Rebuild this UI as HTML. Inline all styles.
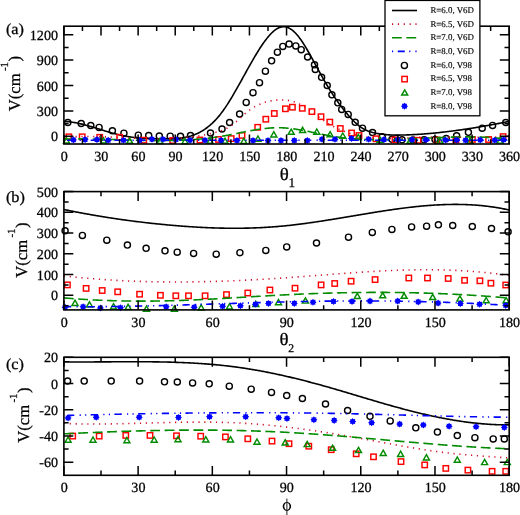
<!DOCTYPE html>
<html><head><meta charset="utf-8"><style>
html,body{margin:0;padding:0;background:#fff;}
svg{display:block;}
text{font-family:"Liberation Serif",serif;fill:#000;stroke:#000;stroke-width:0.28px;text-rendering:geometricPrecision;}
.g{opacity:0.999}
</style></head><body>
<svg width="520" height="515" viewBox="0 0 520 515">
<rect width="520" height="515" fill="#fff"/>
<path d="M63.9,121.49L64.9,121.52L65.9,121.57L66.9,121.64L67.9,121.72L68.9,121.81L69.9,121.92L70.9,122.04L71.9,122.18L72.9,122.32L73.9,122.48L74.9,122.65L75.9,122.83L76.9,123.02L77.9,123.22L78.9,123.44L79.9,123.66L80.9,123.89L81.9,124.12L82.9,124.37L83.9,124.62L84.9,124.88L85.9,125.15L86.9,125.42L87.9,125.7L88.9,125.99L89.9,126.28L90.9,126.57L91.9,126.87L92.9,127.17L93.9,127.47L94.9,127.78L95.9,128.09L96.9,128.4L97.9,128.71L98.9,129.03L99.9,129.34L100.9,129.65L101.9,129.97L102.9,130.28L103.9,130.59L104.9,130.9L105.9,131.21L106.9,131.51L107.9,131.82L108.9,132.11L109.9,132.41L110.9,132.7L111.9,132.98L112.9,133.26L113.9,133.54L114.9,133.8L115.9,134.07L116.9,134.32L117.9,134.57L118.9,134.81L119.9,135.04L120.9,135.26L121.9,135.47L122.9,135.68L123.9,135.87L124.9,136.06L125.9,136.24L126.9,136.42L127.9,136.58L128.9,136.74L129.9,136.89L130.9,137.03L131.9,137.17L132.9,137.3L133.9,137.43L134.9,137.54L135.9,137.65L136.9,137.76L137.9,137.86L138.9,137.95L139.9,138.04L140.9,138.12L141.9,138.19L142.9,138.26L143.9,138.33L144.9,138.39L145.9,138.45L146.9,138.5L147.9,138.54L148.9,138.59L149.9,138.62L150.9,138.66L151.9,138.69L152.9,138.72L153.9,138.74L154.9,138.76L155.9,138.78L156.9,138.79L157.9,138.8L158.9,138.81L159.9,138.82L160.9,138.82L161.9,138.82L162.9,138.82L163.9,138.82L164.9,138.81L165.9,138.8L166.9,138.8L167.9,138.78L168.9,138.77L169.9,138.75L170.9,138.72L171.9,138.69L172.9,138.65L173.9,138.6L174.9,138.55L175.9,138.49L176.9,138.41L177.9,138.33L178.9,138.23L179.9,138.12L180.9,138L181.9,137.86L182.9,137.71L183.9,137.55L184.9,137.37L185.9,137.17L186.9,136.95L187.9,136.72L188.9,136.46L189.9,136.19L190.9,135.9L191.9,135.58L192.9,135.24L193.9,134.88L194.9,134.49L195.9,134.09L196.9,133.65L197.9,133.19L198.9,132.7L199.9,132.19L200.9,131.64L201.9,131.07L202.9,130.47L203.9,129.83L204.9,129.17L205.9,128.47L206.9,127.74L207.9,126.98L208.9,126.18L209.9,125.34L210.9,124.47L211.9,123.57L212.9,122.62L213.9,121.64L214.9,120.62L215.9,119.56L216.9,118.45L217.9,117.31L218.9,116.12L219.9,114.89L220.9,113.62L221.9,112.3L222.9,110.94L223.9,109.54L224.9,108.1L225.9,106.62L226.9,105.11L227.9,103.56L228.9,101.98L229.9,100.37L230.9,98.74L231.9,97.08L232.9,95.39L233.9,93.69L234.9,91.96L235.9,90.22L236.9,88.46L237.9,86.69L238.9,84.9L239.9,83.11L240.9,81.31L241.9,79.5L242.9,77.69L243.9,75.88L244.9,74.07L245.9,72.26L246.9,70.46L247.9,68.66L248.9,66.87L249.9,65.09L250.9,63.32L251.9,61.57L252.9,59.83L253.9,58.11L254.9,56.41L255.9,54.74L256.9,53.09L257.9,51.46L258.9,49.86L259.9,48.3L260.9,46.76L261.9,45.26L262.9,43.8L263.9,42.37L264.9,40.99L265.9,39.66L266.9,38.37L267.9,37.13L268.9,35.95L269.9,34.83L270.9,33.77L271.9,32.77L272.9,31.83L273.9,30.96L274.9,30.17L275.9,29.45L276.9,28.81L277.9,28.24L278.9,27.77L279.9,27.37L280.9,27.07L281.9,26.86L282.9,26.74L283.9,26.72L284.9,26.8L285.9,26.97L286.9,27.24L287.9,27.59L288.9,28.04L289.9,28.58L290.9,29.2L291.9,29.91L292.9,30.7L293.9,31.57L294.9,32.53L295.9,33.56L296.9,34.67L297.9,35.86L298.9,37.11L299.9,38.44L300.9,39.83L301.9,41.28L302.9,42.78L303.9,44.34L304.9,45.94L305.9,47.58L306.9,49.26L307.9,50.98L308.9,52.73L309.9,54.5L310.9,56.29L311.9,58.11L312.9,59.93L313.9,61.77L314.9,63.61L315.9,65.45L316.9,67.28L317.9,69.12L318.9,70.94L319.9,72.75L320.9,74.56L321.9,76.35L322.9,78.12L323.9,79.88L324.9,81.62L325.9,83.34L326.9,85.03L327.9,86.7L328.9,88.35L329.9,89.97L330.9,91.56L331.9,93.12L332.9,94.66L333.9,96.17L334.9,97.66L335.9,99.12L336.9,100.55L337.9,101.96L338.9,103.35L339.9,104.71L340.9,106.05L341.9,107.36L342.9,108.65L343.9,109.92L344.9,111.16L345.9,112.39L346.9,113.59L347.9,114.76L348.9,115.92L349.9,117.05L350.9,118.16L351.9,119.23L352.9,120.27L353.9,121.28L354.9,122.26L355.9,123.19L356.9,124.09L357.9,124.94L358.9,125.74L359.9,126.5L360.9,127.21L361.9,127.86L362.9,128.48L363.9,129.05L364.9,129.57L365.9,130.06L366.9,130.51L367.9,130.92L368.9,131.3L369.9,131.65L370.9,131.97L371.9,132.27L372.9,132.54L373.9,132.78L374.9,133.01L375.9,133.22L376.9,133.42L377.9,133.6L378.9,133.77L379.9,133.92L380.9,134.07L381.9,134.2L382.9,134.32L383.9,134.44L384.9,134.54L385.9,134.63L386.9,134.71L387.9,134.79L388.9,134.85L389.9,134.91L390.9,134.96L391.9,135L392.9,135.03L393.9,135.06L394.9,135.08L395.9,135.09L396.9,135.1L397.9,135.1L398.9,135.09L399.9,135.09L400.9,135.07L401.9,135.05L402.9,135.03L403.9,135.01L404.9,134.98L405.9,134.95L406.9,134.91L407.9,134.87L408.9,134.83L409.9,134.79L410.9,134.75L411.9,134.7L412.9,134.65L413.9,134.6L414.9,134.55L415.9,134.49L416.9,134.43L417.9,134.37L418.9,134.31L419.9,134.25L420.9,134.18L421.9,134.11L422.9,134.04L423.9,133.96L424.9,133.89L425.9,133.81L426.9,133.73L427.9,133.65L428.9,133.56L429.9,133.47L430.9,133.39L431.9,133.29L432.9,133.2L433.9,133.11L434.9,133.01L435.9,132.91L436.9,132.81L437.9,132.71L438.9,132.6L439.9,132.5L440.9,132.39L441.9,132.28L442.9,132.16L443.9,132.05L444.9,131.93L445.9,131.82L446.9,131.7L447.9,131.58L448.9,131.45L449.9,131.33L450.9,131.2L451.9,131.07L452.9,130.94L453.9,130.81L454.9,130.68L455.9,130.54L456.9,130.41L457.9,130.27L458.9,130.13L459.9,129.99L460.9,129.84L461.9,129.7L462.9,129.55L463.9,129.4L464.9,129.26L465.9,129.11L466.9,128.95L467.9,128.8L468.9,128.64L469.9,128.49L470.9,128.33L471.9,128.17L472.9,128.01L473.9,127.85L474.9,127.69L475.9,127.52L476.9,127.36L477.9,127.19L478.9,127.02L479.9,126.85L480.9,126.68L481.9,126.51L482.9,126.33L483.9,126.16L484.9,125.98L485.9,125.81L486.9,125.63L487.9,125.45L488.9,125.27L489.9,125.09L490.9,124.91L491.9,124.72L492.9,124.54L493.9,124.36L494.9,124.17L495.9,123.98L496.9,123.79L497.9,123.6L498.9,123.41L499.9,123.22L500.9,123.03L501.9,122.84L502.9,122.65L503.9,122.45L504.9,122.26L505.9,122.06L506.9,121.86L507.9,121.67L508.9,121.47L509.2,121.41" fill="none" stroke="#000" stroke-width="1.6" stroke-linecap="butt" stroke-linejoin="round"/><circle cx="67.8" cy="122.6" r="3.05" fill="none" stroke="#000" stroke-width="1.4"/><circle cx="81.2" cy="123.5" r="3.05" fill="none" stroke="#000" stroke-width="1.4"/><circle cx="90.8" cy="125.5" r="3.05" fill="none" stroke="#000" stroke-width="1.4"/><circle cx="99.1" cy="127.4" r="3.05" fill="none" stroke="#000" stroke-width="1.4"/><circle cx="112.4" cy="130.8" r="3.05" fill="none" stroke="#000" stroke-width="1.4"/><circle cx="123.9" cy="133.2" r="3.05" fill="none" stroke="#000" stroke-width="1.4"/><circle cx="138.3" cy="135.2" r="3.05" fill="none" stroke="#000" stroke-width="1.4"/><circle cx="148.7" cy="135.5" r="3.05" fill="none" stroke="#000" stroke-width="1.4"/><circle cx="159.3" cy="136" r="3.05" fill="none" stroke="#000" stroke-width="1.4"/><circle cx="170.2" cy="136.2" r="3.05" fill="none" stroke="#000" stroke-width="1.4"/><circle cx="180.5" cy="136.3" r="3.05" fill="none" stroke="#000" stroke-width="1.4"/><circle cx="190.5" cy="135.5" r="3.05" fill="none" stroke="#000" stroke-width="1.4"/><circle cx="210.5" cy="133" r="3.05" fill="none" stroke="#000" stroke-width="1.4"/><circle cx="222" cy="129" r="3.05" fill="none" stroke="#000" stroke-width="1.4"/><circle cx="229.6" cy="122.5" r="3.05" fill="none" stroke="#000" stroke-width="1.4"/><circle cx="239.6" cy="114" r="3.05" fill="none" stroke="#000" stroke-width="1.4"/><circle cx="246.2" cy="102.4" r="3.05" fill="none" stroke="#000" stroke-width="1.4"/><circle cx="253" cy="92.7" r="3.05" fill="none" stroke="#000" stroke-width="1.4"/><circle cx="259.5" cy="82.7" r="3.05" fill="none" stroke="#000" stroke-width="1.4"/><circle cx="265.4" cy="71.2" r="3.05" fill="none" stroke="#000" stroke-width="1.4"/><circle cx="271.6" cy="60.8" r="3.05" fill="none" stroke="#000" stroke-width="1.4"/><circle cx="277.4" cy="52.2" r="3.05" fill="none" stroke="#000" stroke-width="1.4"/><circle cx="282.8" cy="46.4" r="3.05" fill="none" stroke="#000" stroke-width="1.4"/><circle cx="289.1" cy="44.1" r="3.05" fill="none" stroke="#000" stroke-width="1.4"/><circle cx="295.8" cy="45.9" r="3.05" fill="none" stroke="#000" stroke-width="1.4"/><circle cx="301.2" cy="49.7" r="3.05" fill="none" stroke="#000" stroke-width="1.4"/><circle cx="307.6" cy="57" r="3.05" fill="none" stroke="#000" stroke-width="1.4"/><circle cx="314.5" cy="64.8" r="3.05" fill="none" stroke="#000" stroke-width="1.4"/><circle cx="315.3" cy="69.4" r="3.05" fill="none" stroke="#000" stroke-width="1.4"/><circle cx="321.6" cy="77.3" r="3.05" fill="none" stroke="#000" stroke-width="1.4"/><circle cx="327.2" cy="85.5" r="3.05" fill="none" stroke="#000" stroke-width="1.4"/><circle cx="331.9" cy="94.8" r="3.05" fill="none" stroke="#000" stroke-width="1.4"/><circle cx="337.8" cy="102.8" r="3.05" fill="none" stroke="#000" stroke-width="1.4"/><circle cx="341.7" cy="109.4" r="3.05" fill="none" stroke="#000" stroke-width="1.4"/><circle cx="348.2" cy="114.4" r="3.05" fill="none" stroke="#000" stroke-width="1.4"/><circle cx="355.2" cy="122.3" r="3.05" fill="none" stroke="#000" stroke-width="1.4"/><circle cx="362.5" cy="128.2" r="3.05" fill="none" stroke="#000" stroke-width="1.4"/><circle cx="372.5" cy="132.5" r="3.05" fill="none" stroke="#000" stroke-width="1.4"/><circle cx="382.2" cy="136.8" r="3.05" fill="none" stroke="#000" stroke-width="1.4"/><circle cx="392" cy="139.3" r="3.05" fill="none" stroke="#000" stroke-width="1.4"/><circle cx="402" cy="139.8" r="3.05" fill="none" stroke="#000" stroke-width="1.4"/><circle cx="413" cy="140" r="3.05" fill="none" stroke="#000" stroke-width="1.4"/><circle cx="424" cy="139.8" r="3.05" fill="none" stroke="#000" stroke-width="1.4"/><circle cx="435" cy="139.5" r="3.05" fill="none" stroke="#000" stroke-width="1.4"/><circle cx="446.2" cy="138.5" r="3.05" fill="none" stroke="#000" stroke-width="1.4"/><circle cx="456.6" cy="135.8" r="3.05" fill="none" stroke="#000" stroke-width="1.4"/><circle cx="468.4" cy="132.3" r="3.05" fill="none" stroke="#000" stroke-width="1.4"/><circle cx="482.2" cy="128.2" r="3.05" fill="none" stroke="#000" stroke-width="1.4"/><circle cx="492.6" cy="125.4" r="3.05" fill="none" stroke="#000" stroke-width="1.4"/><circle cx="505.8" cy="122.6" r="3.05" fill="none" stroke="#000" stroke-width="1.4"/><path d="M63.9,137.33L64.9,137.25L65.9,137.18L66.9,137.11L67.9,137.05L68.9,136.99L69.9,136.93L70.9,136.88L71.9,136.83L72.9,136.78L73.9,136.74L74.9,136.7L75.9,136.67L76.9,136.64L77.9,136.61L78.9,136.59L79.9,136.56L80.9,136.55L81.9,136.53L82.9,136.52L83.9,136.51L84.9,136.5L85.9,136.5L86.9,136.49L87.9,136.49L88.9,136.5L89.9,136.5L90.9,136.51L91.9,136.52L92.9,136.54L93.9,136.55L94.9,136.57L95.9,136.59L96.9,136.61L97.9,136.63L98.9,136.65L99.9,136.68L100.9,136.71L101.9,136.74L102.9,136.77L103.9,136.8L104.9,136.84L105.9,136.87L106.9,136.91L107.9,136.94L108.9,136.98L109.9,137.02L110.9,137.06L111.9,137.1L112.9,137.15L113.9,137.19L114.9,137.23L115.9,137.28L116.9,137.32L117.9,137.37L118.9,137.41L119.9,137.46L120.9,137.5L121.9,137.55L122.9,137.6L123.9,137.64L124.9,137.69L125.9,137.73L126.9,137.78L127.9,137.82L128.9,137.87L129.9,137.91L130.9,137.96L131.9,138L132.9,138.04L133.9,138.09L134.9,138.13L135.9,138.17L136.9,138.21L137.9,138.25L138.9,138.28L139.9,138.32L140.9,138.35L141.9,138.39L142.9,138.42L143.9,138.45L144.9,138.48L145.9,138.51L146.9,138.53L147.9,138.56L148.9,138.58L149.9,138.6L150.9,138.62L151.9,138.64L152.9,138.65L153.9,138.67L154.9,138.68L155.9,138.68L156.9,138.69L157.9,138.69L158.9,138.69L159.9,138.69L160.9,138.69L161.9,138.68L162.9,138.67L163.9,138.66L164.9,138.64L165.9,138.62L166.9,138.6L167.9,138.58L168.9,138.55L169.9,138.52L170.9,138.48L171.9,138.44L172.9,138.4L173.9,138.36L174.9,138.31L175.9,138.25L176.9,138.2L177.9,138.14L178.9,138.07L179.9,138L180.9,137.93L181.9,137.86L182.9,137.77L183.9,137.69L184.9,137.6L185.9,137.51L186.9,137.41L187.9,137.3L188.9,137.2L189.9,137.08L190.9,136.97L191.9,136.84L192.9,136.72L193.9,136.58L194.9,136.45L195.9,136.3L196.9,136.16L197.9,136L198.9,135.85L199.9,135.68L200.9,135.51L201.9,135.34L202.9,135.16L203.9,134.97L204.9,134.78L205.9,134.58L206.9,134.38L207.9,134.17L208.9,133.95L209.9,133.73L210.9,133.5L211.9,133.26L212.9,133.02L213.9,132.78L214.9,132.52L215.9,132.26L216.9,131.99L217.9,131.71L218.9,131.42L219.9,131.1L220.9,130.78L221.9,130.43L222.9,130.05L223.9,129.65L224.9,129.23L225.9,128.77L226.9,128.28L227.9,127.75L228.9,127.19L229.9,126.58L230.9,125.93L231.9,125.24L232.9,124.5L233.9,123.72L234.9,122.89L235.9,122.04L236.9,121.15L237.9,120.25L238.9,119.33L239.9,118.4L240.9,117.46L241.9,116.53L242.9,115.61L243.9,114.7L244.9,113.81L245.9,112.95L246.9,112.12L247.9,111.33L248.9,110.57L249.9,109.84L250.9,109.14L251.9,108.47L252.9,107.83L253.9,107.23L254.9,106.65L255.9,106.1L256.9,105.58L257.9,105.09L258.9,104.62L259.9,104.18L260.9,103.76L261.9,103.37L262.9,103.01L263.9,102.67L264.9,102.35L265.9,102.05L266.9,101.78L267.9,101.53L268.9,101.3L269.9,101.08L270.9,100.89L271.9,100.72L272.9,100.56L273.9,100.43L274.9,100.31L275.9,100.2L276.9,100.11L277.9,100.04L278.9,99.99L279.9,99.95L280.9,99.93L281.9,99.94L282.9,99.96L283.9,100L284.9,100.07L285.9,100.16L286.9,100.27L287.9,100.41L288.9,100.57L289.9,100.77L290.9,100.98L291.9,101.23L292.9,101.51L293.9,101.81L294.9,102.15L295.9,102.52L296.9,102.92L297.9,103.36L298.9,103.83L299.9,104.32L300.9,104.85L301.9,105.4L302.9,105.98L303.9,106.58L304.9,107.2L305.9,107.84L306.9,108.5L307.9,109.17L308.9,109.86L309.9,110.56L310.9,111.27L311.9,111.99L312.9,112.72L313.9,113.45L314.9,114.18L315.9,114.92L316.9,115.66L317.9,116.39L318.9,117.12L319.9,117.85L320.9,118.57L321.9,119.28L322.9,119.98L323.9,120.66L324.9,121.33L325.9,121.99L326.9,122.63L327.9,123.25L328.9,123.86L329.9,124.46L330.9,125.03L331.9,125.6L332.9,126.14L333.9,126.67L334.9,127.19L335.9,127.69L336.9,128.18L337.9,128.66L338.9,129.12L339.9,129.56L340.9,130L341.9,130.42L342.9,130.82L343.9,131.22L344.9,131.6L345.9,131.96L346.9,132.32L347.9,132.66L348.9,132.99L349.9,133.31L350.9,133.62L351.9,133.91L352.9,134.2L353.9,134.47L354.9,134.73L355.9,134.98L356.9,135.22L357.9,135.45L358.9,135.67L359.9,135.87L360.9,136.07L361.9,136.26L362.9,136.44L363.9,136.61L364.9,136.77L365.9,136.92L366.9,137.06L367.9,137.2L368.9,137.32L369.9,137.44L370.9,137.55L371.9,137.65L372.9,137.75L373.9,137.83L374.9,137.91L375.9,137.99L376.9,138.05L377.9,138.11L378.9,138.17L379.9,138.21L380.9,138.26L381.9,138.29L382.9,138.32L383.9,138.35L384.9,138.37L385.9,138.38L386.9,138.39L387.9,138.4L388.9,138.4L389.9,138.39L390.9,138.39L391.9,138.38L392.9,138.36L393.9,138.35L394.9,138.33L395.9,138.3L396.9,138.28L397.9,138.25L398.9,138.22L399.9,138.18L400.9,138.15L401.9,138.11L402.9,138.07L403.9,138.03L404.9,137.99L405.9,137.95L406.9,137.91L407.9,137.87L408.9,137.82L409.9,137.78L410.9,137.74L411.9,137.69L412.9,137.65L413.9,137.61L414.9,137.57L415.9,137.53L416.9,137.49L417.9,137.45L418.9,137.42L419.9,137.39L420.9,137.35L421.9,137.33L422.9,137.3L423.9,137.27L424.9,137.25L425.9,137.23L426.9,137.21L427.9,137.19L428.9,137.18L429.9,137.16L430.9,137.15L431.9,137.14L432.9,137.13L433.9,137.12L434.9,137.11L435.9,137.11L436.9,137.1L437.9,137.1L438.9,137.09L439.9,137.09L440.9,137.09L441.9,137.09L442.9,137.1L443.9,137.1L444.9,137.1L445.9,137.1L446.9,137.11L447.9,137.11L448.9,137.12L449.9,137.13L450.9,137.13L451.9,137.14L452.9,137.15L453.9,137.15L454.9,137.16L455.9,137.17L456.9,137.18L457.9,137.18L458.9,137.19L459.9,137.2L460.9,137.21L461.9,137.22L462.9,137.22L463.9,137.23L464.9,137.24L465.9,137.24L466.9,137.25L467.9,137.25L468.9,137.26L469.9,137.26L470.9,137.27L471.9,137.27L472.9,137.27L473.9,137.27L474.9,137.27L475.9,137.27L476.9,137.27L477.9,137.26L478.9,137.26L479.9,137.25L480.9,137.25L481.9,137.24L482.9,137.23L483.9,137.22L484.9,137.21L485.9,137.19L486.9,137.18L487.9,137.16L488.9,137.14L489.9,137.12L490.9,137.1L491.9,137.07L492.9,137.04L493.9,137.02L494.9,136.99L495.9,136.95L496.9,136.92L497.9,136.88L498.9,136.84L499.9,136.8L500.9,136.76L501.9,136.71L502.9,136.66L503.9,136.61L504.9,136.55L505.9,136.5L506.9,136.44L507.9,136.37L508.9,136.31L509.2,136.29" fill="none" stroke="#d0102a" stroke-width="1.6" stroke-dasharray="1.2 4.65" stroke-linecap="butt" stroke-linejoin="round"/><rect x="66.2" y="134.1" width="5.4" height="5.4" fill="none" stroke="#ff0000" stroke-width="1.45"/><rect x="79.5" y="134.1" width="5.4" height="5.4" fill="none" stroke="#ff0000" stroke-width="1.45"/><rect x="97" y="134.6" width="5.4" height="5.4" fill="none" stroke="#ff0000" stroke-width="1.45"/><rect x="117" y="134.6" width="5.4" height="5.4" fill="none" stroke="#ff0000" stroke-width="1.45"/><rect x="141.1" y="137.5" width="5.4" height="5.4" fill="none" stroke="#ff0000" stroke-width="1.45"/><rect x="170" y="137.8" width="5.4" height="5.4" fill="none" stroke="#ff0000" stroke-width="1.45"/><rect x="197.3" y="137.3" width="5.4" height="5.4" fill="none" stroke="#ff0000" stroke-width="1.45"/><rect x="215.8" y="136.8" width="5.4" height="5.4" fill="none" stroke="#ff0000" stroke-width="1.45"/><rect x="228.5" y="135.9" width="5.4" height="5.4" fill="none" stroke="#ff0000" stroke-width="1.45"/><rect x="239.3" y="132.7" width="5.4" height="5.4" fill="none" stroke="#ff0000" stroke-width="1.45"/><rect x="255" y="124.6" width="5.4" height="5.4" fill="none" stroke="#ff0000" stroke-width="1.45"/><rect x="263.1" y="116.5" width="5.4" height="5.4" fill="none" stroke="#ff0000" stroke-width="1.45"/><rect x="271.6" y="110.8" width="5.4" height="5.4" fill="none" stroke="#ff0000" stroke-width="1.45"/><rect x="282.7" y="106.1" width="5.4" height="5.4" fill="none" stroke="#ff0000" stroke-width="1.45"/><rect x="289.7" y="104.5" width="5.4" height="5.4" fill="none" stroke="#ff0000" stroke-width="1.45"/><rect x="299.6" y="105.6" width="5.4" height="5.4" fill="none" stroke="#ff0000" stroke-width="1.45"/><rect x="309.2" y="108.9" width="5.4" height="5.4" fill="none" stroke="#ff0000" stroke-width="1.45"/><rect x="318.3" y="114" width="5.4" height="5.4" fill="none" stroke="#ff0000" stroke-width="1.45"/><rect x="327.1" y="119.4" width="5.4" height="5.4" fill="none" stroke="#ff0000" stroke-width="1.45"/><rect x="337.6" y="125.8" width="5.4" height="5.4" fill="none" stroke="#ff0000" stroke-width="1.45"/><rect x="348.9" y="130.3" width="5.4" height="5.4" fill="none" stroke="#ff0000" stroke-width="1.45"/><rect x="356.3" y="132.8" width="5.4" height="5.4" fill="none" stroke="#ff0000" stroke-width="1.45"/><rect x="373.3" y="136.1" width="5.4" height="5.4" fill="none" stroke="#ff0000" stroke-width="1.45"/><rect x="392.3" y="137.1" width="5.4" height="5.4" fill="none" stroke="#ff0000" stroke-width="1.45"/><rect x="415.3" y="137.6" width="5.4" height="5.4" fill="none" stroke="#ff0000" stroke-width="1.45"/><rect x="434.3" y="137.3" width="5.4" height="5.4" fill="none" stroke="#ff0000" stroke-width="1.45"/><rect x="453.3" y="137.1" width="5.4" height="5.4" fill="none" stroke="#ff0000" stroke-width="1.45"/><rect x="469.7" y="136.8" width="5.4" height="5.4" fill="none" stroke="#ff0000" stroke-width="1.45"/><rect x="485.9" y="136.8" width="5.4" height="5.4" fill="none" stroke="#ff0000" stroke-width="1.45"/><rect x="500.4" y="133.9" width="5.4" height="5.4" fill="none" stroke="#ff0000" stroke-width="1.45"/><path d="M63.9,139.16L64.9,139.13L65.9,139.1L66.9,139.08L67.9,139.05L68.9,139.03L69.9,139.01L70.9,138.99L71.9,138.98L72.9,138.96L73.9,138.95L74.9,138.94L75.9,138.93L76.9,138.92L77.9,138.92L78.9,138.91L79.9,138.91L80.9,138.91L81.9,138.91L82.9,138.91L83.9,138.92L84.9,138.92L85.9,138.93L86.9,138.94L87.9,138.95L88.9,138.96L89.9,138.97L90.9,138.98L91.9,139L92.9,139.01L93.9,139.03L94.9,139.05L95.9,139.07L96.9,139.09L97.9,139.11L98.9,139.13L99.9,139.15L100.9,139.17L101.9,139.2L102.9,139.22L103.9,139.25L104.9,139.27L105.9,139.3L106.9,139.33L107.9,139.35L108.9,139.38L109.9,139.41L110.9,139.44L111.9,139.47L112.9,139.5L113.9,139.53L114.9,139.56L115.9,139.59L116.9,139.62L117.9,139.65L118.9,139.68L119.9,139.71L120.9,139.75L121.9,139.78L122.9,139.81L123.9,139.84L124.9,139.87L125.9,139.9L126.9,139.93L127.9,139.96L128.9,139.99L129.9,140.02L130.9,140.05L131.9,140.08L132.9,140.11L133.9,140.14L134.9,140.17L135.9,140.19L136.9,140.22L137.9,140.25L138.9,140.27L139.9,140.3L140.9,140.32L141.9,140.34L142.9,140.36L143.9,140.39L144.9,140.41L145.9,140.43L146.9,140.45L147.9,140.46L148.9,140.48L149.9,140.49L150.9,140.51L151.9,140.52L152.9,140.53L153.9,140.55L154.9,140.55L155.9,140.56L156.9,140.57L157.9,140.58L158.9,140.58L159.9,140.58L160.9,140.58L161.9,140.58L162.9,140.58L163.9,140.58L164.9,140.57L165.9,140.56L166.9,140.55L167.9,140.54L168.9,140.53L169.9,140.52L170.9,140.5L171.9,140.48L172.9,140.46L173.9,140.44L174.9,140.42L175.9,140.39L176.9,140.36L177.9,140.33L178.9,140.3L179.9,140.26L180.9,140.22L181.9,140.18L182.9,140.14L183.9,140.1L184.9,140.05L185.9,140L186.9,139.95L187.9,139.89L188.9,139.84L189.9,139.78L190.9,139.72L191.9,139.65L192.9,139.58L193.9,139.51L194.9,139.44L195.9,139.36L196.9,139.28L197.9,139.2L198.9,139.11L199.9,139.03L200.9,138.93L201.9,138.84L202.9,138.74L203.9,138.64L204.9,138.54L205.9,138.43L206.9,138.32L207.9,138.21L208.9,138.09L209.9,137.97L210.9,137.84L211.9,137.72L212.9,137.58L213.9,137.45L214.9,137.31L215.9,137.17L216.9,137.02L217.9,136.87L218.9,136.72L219.9,136.56L220.9,136.4L221.9,136.24L222.9,136.07L223.9,135.9L224.9,135.72L225.9,135.54L226.9,135.36L227.9,135.17L228.9,134.98L229.9,134.79L230.9,134.6L231.9,134.4L232.9,134.21L233.9,134.01L234.9,133.81L235.9,133.61L236.9,133.41L237.9,133.2L238.9,133L239.9,132.8L240.9,132.6L241.9,132.4L242.9,132.2L243.9,132L244.9,131.8L245.9,131.61L246.9,131.41L247.9,131.22L248.9,131.03L249.9,130.85L250.9,130.66L251.9,130.48L252.9,130.3L253.9,130.13L254.9,129.96L255.9,129.79L256.9,129.63L257.9,129.48L258.9,129.33L259.9,129.18L260.9,129.04L261.9,128.9L262.9,128.77L263.9,128.65L264.9,128.54L265.9,128.43L266.9,128.32L267.9,128.23L268.9,128.14L269.9,128.06L270.9,127.99L271.9,127.92L272.9,127.87L273.9,127.82L274.9,127.78L275.9,127.76L276.9,127.74L277.9,127.73L278.9,127.73L279.9,127.74L280.9,127.76L281.9,127.79L282.9,127.84L283.9,127.89L284.9,127.95L285.9,128.03L286.9,128.11L287.9,128.2L288.9,128.3L289.9,128.4L290.9,128.52L291.9,128.64L292.9,128.77L293.9,128.91L294.9,129.05L295.9,129.2L296.9,129.36L297.9,129.52L298.9,129.69L299.9,129.86L300.9,130.04L301.9,130.22L302.9,130.41L303.9,130.59L304.9,130.79L305.9,130.98L306.9,131.18L307.9,131.38L308.9,131.59L309.9,131.79L310.9,132L311.9,132.21L312.9,132.42L313.9,132.63L314.9,132.84L315.9,133.05L316.9,133.26L317.9,133.47L318.9,133.68L319.9,133.89L320.9,134.09L321.9,134.3L322.9,134.5L323.9,134.7L324.9,134.89L325.9,135.09L326.9,135.28L327.9,135.46L328.9,135.64L329.9,135.82L330.9,136L331.9,136.16L332.9,136.33L333.9,136.49L334.9,136.64L335.9,136.79L336.9,136.94L337.9,137.08L338.9,137.21L339.9,137.35L340.9,137.48L341.9,137.6L342.9,137.72L343.9,137.84L344.9,137.95L345.9,138.06L346.9,138.16L347.9,138.26L348.9,138.36L349.9,138.45L350.9,138.54L351.9,138.62L352.9,138.7L353.9,138.78L354.9,138.85L355.9,138.93L356.9,138.99L357.9,139.06L358.9,139.12L359.9,139.17L360.9,139.23L361.9,139.28L362.9,139.33L363.9,139.37L364.9,139.41L365.9,139.45L366.9,139.49L367.9,139.52L368.9,139.55L369.9,139.58L370.9,139.6L371.9,139.62L372.9,139.64L373.9,139.66L374.9,139.67L375.9,139.68L376.9,139.69L377.9,139.7L378.9,139.71L379.9,139.71L380.9,139.71L381.9,139.7L382.9,139.7L383.9,139.69L384.9,139.69L385.9,139.68L386.9,139.66L387.9,139.65L388.9,139.63L389.9,139.61L390.9,139.59L391.9,139.57L392.9,139.55L393.9,139.53L394.9,139.5L395.9,139.47L396.9,139.44L397.9,139.41L398.9,139.38L399.9,139.35L400.9,139.32L401.9,139.28L402.9,139.24L403.9,139.21L404.9,139.17L405.9,139.13L406.9,139.09L407.9,139.05L408.9,139.01L409.9,138.96L410.9,138.92L411.9,138.88L412.9,138.83L413.9,138.79L414.9,138.74L415.9,138.69L416.9,138.65L417.9,138.6L418.9,138.55L419.9,138.5L420.9,138.46L421.9,138.41L422.9,138.36L423.9,138.31L424.9,138.26L425.9,138.22L426.9,138.17L427.9,138.12L428.9,138.07L429.9,138.03L430.9,137.98L431.9,137.93L432.9,137.88L433.9,137.84L434.9,137.79L435.9,137.75L436.9,137.7L437.9,137.66L438.9,137.62L439.9,137.58L440.9,137.53L441.9,137.49L442.9,137.45L443.9,137.42L444.9,137.38L445.9,137.34L446.9,137.31L447.9,137.27L448.9,137.24L449.9,137.21L450.9,137.17L451.9,137.15L452.9,137.12L453.9,137.09L454.9,137.07L455.9,137.04L456.9,137.02L457.9,137L458.9,136.98L459.9,136.97L460.9,136.95L461.9,136.94L462.9,136.93L463.9,136.92L464.9,136.91L465.9,136.91L466.9,136.9L467.9,136.9L468.9,136.9L469.9,136.91L470.9,136.91L471.9,136.92L472.9,136.93L473.9,136.95L474.9,136.96L475.9,136.98L476.9,137L477.9,137.02L478.9,137.05L479.9,137.08L480.9,137.11L481.9,137.15L482.9,137.18L483.9,137.22L484.9,137.27L485.9,137.31L486.9,137.36L487.9,137.42L488.9,137.47L489.9,137.53L490.9,137.6L491.9,137.66L492.9,137.73L493.9,137.8L494.9,137.88L495.9,137.96L496.9,138.05L497.9,138.13L498.9,138.22L499.9,138.32L500.9,138.42L501.9,138.52L502.9,138.63L503.9,138.74L504.9,138.85L505.9,138.97L506.9,139.09L507.9,139.22L508.9,139.35L509.2,139.39" fill="none" stroke="#008b00" stroke-width="1.6" stroke-dasharray="9.8 4.6" stroke-linecap="butt" stroke-linejoin="round"/><path d="M66.5,137.8L69.5,143L63.5,143Z" fill="none" stroke="#008b00" stroke-width="1.45" stroke-linejoin="miter"/><path d="M103.5,137.8L106.5,143L100.5,143Z" fill="none" stroke="#008b00" stroke-width="1.45" stroke-linejoin="miter"/><path d="M129.7,138.1L132.7,143.3L126.7,143.3Z" fill="none" stroke="#008b00" stroke-width="1.45" stroke-linejoin="miter"/><path d="M160,138.3L163,143.5L157,143.5Z" fill="none" stroke="#008b00" stroke-width="1.45" stroke-linejoin="miter"/><path d="M185,138.5L188,143.7L182,143.7Z" fill="none" stroke="#008b00" stroke-width="1.45" stroke-linejoin="miter"/><path d="M210,138.1L213,143.3L207,143.3Z" fill="none" stroke="#008b00" stroke-width="1.45" stroke-linejoin="miter"/><path d="M225,138.1L228,143.3L222,143.3Z" fill="none" stroke="#008b00" stroke-width="1.45" stroke-linejoin="miter"/><path d="M243.8,138.3L246.8,143.5L240.8,143.5Z" fill="none" stroke="#008b00" stroke-width="1.45" stroke-linejoin="miter"/><path d="M258,136L261,141.2L255,141.2Z" fill="none" stroke="#008b00" stroke-width="1.45" stroke-linejoin="miter"/><path d="M273.8,131.7L276.8,136.9L270.8,136.9Z" fill="none" stroke="#008b00" stroke-width="1.45" stroke-linejoin="miter"/><path d="M291.2,129.1L294.2,134.3L288.2,134.3Z" fill="none" stroke="#008b00" stroke-width="1.45" stroke-linejoin="miter"/><path d="M302.6,127.3L305.6,132.5L299.6,132.5Z" fill="none" stroke="#008b00" stroke-width="1.45" stroke-linejoin="miter"/><path d="M316.8,129L319.8,134.2L313.8,134.2Z" fill="none" stroke="#008b00" stroke-width="1.45" stroke-linejoin="miter"/><path d="M330.1,131.6L333.1,136.8L327.1,136.8Z" fill="none" stroke="#008b00" stroke-width="1.45" stroke-linejoin="miter"/><path d="M342.8,133L345.8,138.2L339.8,138.2Z" fill="none" stroke="#008b00" stroke-width="1.45" stroke-linejoin="miter"/><path d="M358.3,134.4L361.3,139.6L355.3,139.6Z" fill="none" stroke="#008b00" stroke-width="1.45" stroke-linejoin="miter"/><path d="M380,137.1L383,142.3L377,142.3Z" fill="none" stroke="#008b00" stroke-width="1.45" stroke-linejoin="miter"/><path d="M410,138.1L413,143.3L407,143.3Z" fill="none" stroke="#008b00" stroke-width="1.45" stroke-linejoin="miter"/><path d="M440,138.1L443,143.3L437,143.3Z" fill="none" stroke="#008b00" stroke-width="1.45" stroke-linejoin="miter"/><path d="M470,138.1L473,143.3L467,143.3Z" fill="none" stroke="#008b00" stroke-width="1.45" stroke-linejoin="miter"/><path d="M500,137.9L503,143.1L497,143.1Z" fill="none" stroke="#008b00" stroke-width="1.45" stroke-linejoin="miter"/><path d="M63.9,140.2L509.2,140.2" fill="none" stroke="#0000ff" stroke-width="1.6" stroke-dasharray="7.3 5.3 1.2 4.3 1.2 4.4" stroke-dashoffset="-3.1" stroke-linecap="butt" stroke-linejoin="round"/><path d="M73.5,136.4L74.46,137.59L75.97,137.43L75.81,138.94L77,139.9L75.81,140.86L75.97,142.37L74.46,142.21L73.5,143.4L72.54,142.21L71.03,142.37L71.19,140.86L70,139.9L71.19,138.94L71.03,137.43L72.54,137.59Z" fill="#0000ff"/><path d="M85.1,136.1L86.06,137.29L87.57,137.13L87.41,138.64L88.6,139.6L87.41,140.56L87.57,142.07L86.06,141.91L85.1,143.1L84.14,141.91L82.63,142.07L82.79,140.56L81.6,139.6L82.79,138.64L82.63,137.13L84.14,137.29Z" fill="#0000ff"/><path d="M97,136.1L97.96,137.29L99.47,137.13L99.31,138.64L100.5,139.6L99.31,140.56L99.47,142.07L97.96,141.91L97,143.1L96.04,141.91L94.53,142.07L94.69,140.56L93.5,139.6L94.69,138.64L94.53,137.13L96.04,137.29Z" fill="#0000ff"/><path d="M108.2,136.7L109.16,137.89L110.67,137.73L110.51,139.24L111.7,140.2L110.51,141.16L110.67,142.67L109.16,142.51L108.2,143.7L107.24,142.51L105.73,142.67L105.89,141.16L104.7,140.2L105.89,139.24L105.73,137.73L107.24,137.89Z" fill="#0000ff"/><path d="M123.5,136.7L124.46,137.89L125.97,137.73L125.81,139.24L127,140.2L125.81,141.16L125.97,142.67L124.46,142.51L123.5,143.7L122.54,142.51L121.03,142.67L121.19,141.16L120,140.2L121.19,139.24L121.03,137.73L122.54,137.89Z" fill="#0000ff"/><path d="M139.7,136.7L140.66,137.89L142.17,137.73L142.01,139.24L143.2,140.2L142.01,141.16L142.17,142.67L140.66,142.51L139.7,143.7L138.74,142.51L137.23,142.67L137.39,141.16L136.2,140.2L137.39,139.24L137.23,137.73L138.74,137.89Z" fill="#0000ff"/><path d="M152,135.7L152.96,136.89L154.47,136.73L154.31,138.24L155.5,139.2L154.31,140.16L154.47,141.67L152.96,141.51L152,142.7L151.04,141.51L149.53,141.67L149.69,140.16L148.5,139.2L149.69,138.24L149.53,136.73L151.04,136.89Z" fill="#0000ff"/><path d="M163,135.7L163.96,136.89L165.47,136.73L165.31,138.24L166.5,139.2L165.31,140.16L165.47,141.67L163.96,141.51L163,142.7L162.04,141.51L160.53,141.67L160.69,140.16L159.5,139.2L160.69,138.24L160.53,136.73L162.04,136.89Z" fill="#0000ff"/><path d="M176,136L176.96,137.19L178.47,137.03L178.31,138.54L179.5,139.5L178.31,140.46L178.47,141.97L176.96,141.81L176,143L175.04,141.81L173.53,141.97L173.69,140.46L172.5,139.5L173.69,138.54L173.53,137.03L175.04,137.19Z" fill="#0000ff"/><path d="M190,136.7L190.96,137.89L192.47,137.73L192.31,139.24L193.5,140.2L192.31,141.16L192.47,142.67L190.96,142.51L190,143.7L189.04,142.51L187.53,142.67L187.69,141.16L186.5,140.2L187.69,139.24L187.53,137.73L189.04,137.89Z" fill="#0000ff"/><path d="M205,136.7L205.96,137.89L207.47,137.73L207.31,139.24L208.5,140.2L207.31,141.16L207.47,142.67L205.96,142.51L205,143.7L204.04,142.51L202.53,142.67L202.69,141.16L201.5,140.2L202.69,139.24L202.53,137.73L204.04,137.89Z" fill="#0000ff"/><path d="M221,136.9L221.96,138.09L223.47,137.93L223.31,139.44L224.5,140.4L223.31,141.36L223.47,142.87L221.96,142.71L221,143.9L220.04,142.71L218.53,142.87L218.69,141.36L217.5,140.4L218.69,139.44L218.53,137.93L220.04,138.09Z" fill="#0000ff"/><path d="M237,137L237.96,138.19L239.47,138.03L239.31,139.54L240.5,140.5L239.31,141.46L239.47,142.97L237.96,142.81L237,144L236.04,142.81L234.53,142.97L234.69,141.46L233.5,140.5L234.69,139.54L234.53,138.03L236.04,138.19Z" fill="#0000ff"/><path d="M253,137L253.96,138.19L255.47,138.03L255.31,139.54L256.5,140.5L255.31,141.46L255.47,142.97L253.96,142.81L253,144L252.04,142.81L250.53,142.97L250.69,141.46L249.5,140.5L250.69,139.54L250.53,138.03L252.04,138.19Z" fill="#0000ff"/><path d="M268,137L268.96,138.19L270.47,138.03L270.31,139.54L271.5,140.5L270.31,141.46L270.47,142.97L268.96,142.81L268,144L267.04,142.81L265.53,142.97L265.69,141.46L264.5,140.5L265.69,139.54L265.53,138.03L267.04,138.19Z" fill="#0000ff"/><path d="M281,137L281.96,138.19L283.47,138.03L283.31,139.54L284.5,140.5L283.31,141.46L283.47,142.97L281.96,142.81L281,144L280.04,142.81L278.53,142.97L278.69,141.46L277.5,140.5L278.69,139.54L278.53,138.03L280.04,138.19Z" fill="#0000ff"/><path d="M294.3,137L295.26,138.19L296.77,138.03L296.61,139.54L297.8,140.5L296.61,141.46L296.77,142.97L295.26,142.81L294.3,144L293.34,142.81L291.83,142.97L291.99,141.46L290.8,140.5L291.99,139.54L291.83,138.03L293.34,138.19Z" fill="#0000ff"/><path d="M307.3,137L308.26,138.19L309.77,138.03L309.61,139.54L310.8,140.5L309.61,141.46L309.77,142.97L308.26,142.81L307.3,144L306.34,142.81L304.83,142.97L304.99,141.46L303.8,140.5L304.99,139.54L304.83,138.03L306.34,138.19Z" fill="#0000ff"/><path d="M322,135.8L322.96,136.99L324.47,136.83L324.31,138.34L325.5,139.3L324.31,140.26L324.47,141.77L322.96,141.61L322,142.8L321.04,141.61L319.53,141.77L319.69,140.26L318.5,139.3L319.69,138.34L319.53,136.83L321.04,136.99Z" fill="#0000ff"/><path d="M335,135.8L335.96,136.99L337.47,136.83L337.31,138.34L338.5,139.3L337.31,140.26L337.47,141.77L335.96,141.61L335,142.8L334.04,141.61L332.53,141.77L332.69,140.26L331.5,139.3L332.69,138.34L332.53,136.83L334.04,136.99Z" fill="#0000ff"/><path d="M351.4,134.9L352.36,136.09L353.87,135.93L353.71,137.44L354.9,138.4L353.71,139.36L353.87,140.87L352.36,140.71L351.4,141.9L350.44,140.71L348.93,140.87L349.09,139.36L347.9,138.4L349.09,137.44L348.93,135.93L350.44,136.09Z" fill="#0000ff"/><path d="M368.7,135.8L369.66,136.99L371.17,136.83L371.01,138.34L372.2,139.3L371.01,140.26L371.17,141.77L369.66,141.61L368.7,142.8L367.74,141.61L366.23,141.77L366.39,140.26L365.2,139.3L366.39,138.34L366.23,136.83L367.74,136.99Z" fill="#0000ff"/><path d="M384,136.1L384.96,137.29L386.47,137.13L386.31,138.64L387.5,139.6L386.31,140.56L386.47,142.07L384.96,141.91L384,143.1L383.04,141.91L381.53,142.07L381.69,140.56L380.5,139.6L381.69,138.64L381.53,137.13L383.04,137.29Z" fill="#0000ff"/><path d="M398,136.3L398.96,137.49L400.47,137.33L400.31,138.84L401.5,139.8L400.31,140.76L400.47,142.27L398.96,142.11L398,143.3L397.04,142.11L395.53,142.27L395.69,140.76L394.5,139.8L395.69,138.84L395.53,137.33L397.04,137.49Z" fill="#0000ff"/><path d="M412,136.3L412.96,137.49L414.47,137.33L414.31,138.84L415.5,139.8L414.31,140.76L414.47,142.27L412.96,142.11L412,143.3L411.04,142.11L409.53,142.27L409.69,140.76L408.5,139.8L409.69,138.84L409.53,137.33L411.04,137.49Z" fill="#0000ff"/><path d="M426,136.3L426.96,137.49L428.47,137.33L428.31,138.84L429.5,139.8L428.31,140.76L428.47,142.27L426.96,142.11L426,143.3L425.04,142.11L423.53,142.27L423.69,140.76L422.5,139.8L423.69,138.84L423.53,137.33L425.04,137.49Z" fill="#0000ff"/><path d="M445.5,136.5L446.46,137.69L447.97,137.53L447.81,139.04L449,140L447.81,140.96L447.97,142.47L446.46,142.31L445.5,143.5L444.54,142.31L443.03,142.47L443.19,140.96L442,140L443.19,139.04L443.03,137.53L444.54,137.69Z" fill="#0000ff"/><path d="M456.6,136.5L457.56,137.69L459.07,137.53L458.91,139.04L460.1,140L458.91,140.96L459.07,142.47L457.56,142.31L456.6,143.5L455.64,142.31L454.13,142.47L454.29,140.96L453.1,140L454.29,139.04L454.13,137.53L455.64,137.69Z" fill="#0000ff"/><path d="M465.6,136.7L466.56,137.89L468.07,137.73L467.91,139.24L469.1,140.2L467.91,141.16L468.07,142.67L466.56,142.51L465.6,143.7L464.64,142.51L463.13,142.67L463.29,141.16L462.1,140.2L463.29,139.24L463.13,137.73L464.64,137.89Z" fill="#0000ff"/><path d="M480.2,136.5L481.16,137.69L482.67,137.53L482.51,139.04L483.7,140L482.51,140.96L482.67,142.47L481.16,142.31L480.2,143.5L479.24,142.31L477.73,142.47L477.89,140.96L476.7,140L477.89,139.04L477.73,137.53L479.24,137.69Z" fill="#0000ff"/><path d="M494.7,136.7L495.66,137.89L497.17,137.73L497.01,139.24L498.2,140.2L497.01,141.16L497.17,142.67L495.66,142.51L494.7,143.7L493.74,142.51L492.23,142.67L492.39,141.16L491.2,140.2L492.39,139.24L492.23,137.73L493.74,137.89Z" fill="#0000ff"/><path d="M503.7,136.2L504.66,137.39L506.17,137.23L506.01,138.74L507.2,139.7L506.01,140.66L506.17,142.17L504.66,142.01L503.7,143.2L502.74,142.01L501.23,142.17L501.39,140.66L500.2,139.7L501.39,138.74L501.23,137.23L502.74,137.39Z" fill="#0000ff"/><path d="M63.9,209.53L64.9,209.74L65.9,209.94L66.9,210.14L67.9,210.35L68.9,210.55L69.9,210.75L70.9,210.95L71.9,211.14L72.9,211.34L73.9,211.54L74.9,211.73L75.9,211.92L76.9,212.12L77.9,212.31L78.9,212.5L79.9,212.69L80.9,212.87L81.9,213.06L82.9,213.25L83.9,213.43L84.9,213.61L85.9,213.79L86.9,213.98L87.9,214.15L88.9,214.33L89.9,214.51L90.9,214.69L91.9,214.86L92.9,215.04L93.9,215.21L94.9,215.38L95.9,215.55L96.9,215.72L97.9,215.89L98.9,216.06L99.9,216.22L100.9,216.39L101.9,216.55L102.9,216.71L103.9,216.87L104.9,217.04L105.9,217.19L106.9,217.35L107.9,217.51L108.9,217.67L109.9,217.82L110.9,217.97L111.9,218.13L112.9,218.28L113.9,218.43L114.9,218.58L115.9,218.73L116.9,218.87L117.9,219.02L118.9,219.17L119.9,219.31L120.9,219.45L121.9,219.59L122.9,219.73L123.9,219.87L124.9,220.01L125.9,220.15L126.9,220.29L127.9,220.42L128.9,220.55L129.9,220.69L130.9,220.82L131.9,220.95L132.9,221.08L133.9,221.21L134.9,221.34L135.9,221.46L136.9,221.59L137.9,221.71L138.9,221.83L139.9,221.96L140.9,222.08L141.9,222.2L142.9,222.32L143.9,222.43L144.9,222.55L145.9,222.67L146.9,222.78L147.9,222.89L148.9,223.01L149.9,223.12L150.9,223.23L151.9,223.34L152.9,223.45L153.9,223.55L154.9,223.66L155.9,223.76L156.9,223.87L157.9,223.97L158.9,224.07L159.9,224.17L160.9,224.27L161.9,224.37L162.9,224.47L163.9,224.56L164.9,224.66L165.9,224.75L166.9,224.85L167.9,224.94L168.9,225.03L169.9,225.12L170.9,225.21L171.9,225.3L172.9,225.39L173.9,225.47L174.9,225.56L175.9,225.64L176.9,225.72L177.9,225.8L178.9,225.88L179.9,225.96L180.9,226.04L181.9,226.12L182.9,226.19L183.9,226.27L184.9,226.34L185.9,226.41L186.9,226.49L187.9,226.56L188.9,226.62L189.9,226.69L190.9,226.76L191.9,226.82L192.9,226.88L193.9,226.95L194.9,227.01L195.9,227.07L196.9,227.13L197.9,227.18L198.9,227.24L199.9,227.29L200.9,227.35L201.9,227.4L202.9,227.45L203.9,227.5L204.9,227.54L205.9,227.59L206.9,227.63L207.9,227.68L208.9,227.72L209.9,227.76L210.9,227.8L211.9,227.83L212.9,227.87L213.9,227.9L214.9,227.94L215.9,227.97L216.9,228L217.9,228.03L218.9,228.05L219.9,228.08L220.9,228.1L221.9,228.12L222.9,228.14L223.9,228.16L224.9,228.18L225.9,228.19L226.9,228.21L227.9,228.22L228.9,228.23L229.9,228.24L230.9,228.25L231.9,228.25L232.9,228.25L233.9,228.26L234.9,228.26L235.9,228.26L236.9,228.25L237.9,228.25L238.9,228.24L239.9,228.23L240.9,228.22L241.9,228.21L242.9,228.2L243.9,228.18L244.9,228.16L245.9,228.14L246.9,228.12L247.9,228.1L248.9,228.08L249.9,228.05L250.9,228.02L251.9,227.99L252.9,227.96L253.9,227.92L254.9,227.89L255.9,227.85L256.9,227.81L257.9,227.77L258.9,227.72L259.9,227.68L260.9,227.63L261.9,227.58L262.9,227.53L263.9,227.47L264.9,227.42L265.9,227.36L266.9,227.3L267.9,227.23L268.9,227.17L269.9,227.1L270.9,227.03L271.9,226.96L272.9,226.89L273.9,226.82L274.9,226.74L275.9,226.66L276.9,226.58L277.9,226.5L278.9,226.41L279.9,226.32L280.9,226.23L281.9,226.14L282.9,226.05L283.9,225.95L284.9,225.85L285.9,225.75L286.9,225.65L287.9,225.54L288.9,225.44L289.9,225.33L290.9,225.22L291.9,225.1L292.9,224.99L293.9,224.87L294.9,224.76L295.9,224.64L296.9,224.51L297.9,224.39L298.9,224.27L299.9,224.14L300.9,224.01L301.9,223.88L302.9,223.75L303.9,223.62L304.9,223.49L305.9,223.35L306.9,223.21L307.9,223.08L308.9,222.94L309.9,222.8L310.9,222.65L311.9,222.51L312.9,222.37L313.9,222.22L314.9,222.07L315.9,221.93L316.9,221.78L317.9,221.63L318.9,221.48L319.9,221.32L320.9,221.17L321.9,221.02L322.9,220.86L323.9,220.7L324.9,220.55L325.9,220.39L326.9,220.23L327.9,220.07L328.9,219.91L329.9,219.75L330.9,219.59L331.9,219.43L332.9,219.27L333.9,219.1L334.9,218.94L335.9,218.77L336.9,218.61L337.9,218.44L338.9,218.28L339.9,218.11L340.9,217.95L341.9,217.78L342.9,217.61L343.9,217.45L344.9,217.28L345.9,217.11L346.9,216.94L347.9,216.77L348.9,216.61L349.9,216.44L350.9,216.27L351.9,216.1L352.9,215.93L353.9,215.76L354.9,215.6L355.9,215.43L356.9,215.26L357.9,215.09L358.9,214.92L359.9,214.76L360.9,214.59L361.9,214.42L362.9,214.26L363.9,214.09L364.9,213.92L365.9,213.76L366.9,213.59L367.9,213.43L368.9,213.26L369.9,213.1L370.9,212.94L371.9,212.77L372.9,212.61L373.9,212.45L374.9,212.29L375.9,212.13L376.9,211.97L377.9,211.81L378.9,211.65L379.9,211.5L380.9,211.34L381.9,211.19L382.9,211.03L383.9,210.88L384.9,210.73L385.9,210.58L386.9,210.43L387.9,210.28L388.9,210.13L389.9,209.98L390.9,209.84L391.9,209.69L392.9,209.55L393.9,209.41L394.9,209.27L395.9,209.13L396.9,208.99L397.9,208.85L398.9,208.72L399.9,208.58L400.9,208.45L401.9,208.32L402.9,208.19L403.9,208.06L404.9,207.94L405.9,207.81L406.9,207.69L407.9,207.57L408.9,207.45L409.9,207.33L410.9,207.22L411.9,207.1L412.9,206.99L413.9,206.88L414.9,206.77L415.9,206.67L416.9,206.56L417.9,206.46L418.9,206.36L419.9,206.26L420.9,206.17L421.9,206.07L422.9,205.98L423.9,205.89L424.9,205.8L425.9,205.72L426.9,205.64L427.9,205.56L428.9,205.48L429.9,205.4L430.9,205.33L431.9,205.26L432.9,205.19L433.9,205.13L434.9,205.07L435.9,205.01L436.9,204.95L437.9,204.9L438.9,204.84L439.9,204.79L440.9,204.75L441.9,204.71L442.9,204.66L443.9,204.63L444.9,204.59L445.9,204.56L446.9,204.53L447.9,204.51L448.9,204.48L449.9,204.46L450.9,204.45L451.9,204.43L452.9,204.42L453.9,204.42L454.9,204.41L455.9,204.41L456.9,204.42L457.9,204.42L458.9,204.43L459.9,204.44L460.9,204.46L461.9,204.48L462.9,204.5L463.9,204.53L464.9,204.56L465.9,204.6L466.9,204.63L467.9,204.68L468.9,204.72L469.9,204.77L470.9,204.82L471.9,204.88L472.9,204.94L473.9,205L474.9,205.07L475.9,205.14L476.9,205.22L477.9,205.3L478.9,205.39L479.9,205.47L480.9,205.57L481.9,205.66L482.9,205.76L483.9,205.87L484.9,205.98L485.9,206.09L486.9,206.21L487.9,206.33L488.9,206.46L489.9,206.59L490.9,206.72L491.9,206.86L492.9,207.01L493.9,207.15L494.9,207.31L495.9,207.47L496.9,207.63L497.9,207.79L498.9,207.97L499.9,208.14L500.9,208.32L501.9,208.51L502.9,208.7L503.9,208.9L504.9,209.1L505.9,209.3L506.9,209.51L507.9,209.73L508.9,209.95L509.2,210.02" fill="none" stroke="#000" stroke-width="1.6" stroke-linecap="butt" stroke-linejoin="round"/><circle cx="65.1" cy="230.8" r="3.05" fill="none" stroke="#000" stroke-width="1.4"/><circle cx="82.4" cy="235.4" r="3.05" fill="none" stroke="#000" stroke-width="1.4"/><circle cx="106.8" cy="240.2" r="3.05" fill="none" stroke="#000" stroke-width="1.4"/><circle cx="127.4" cy="245.1" r="3.05" fill="none" stroke="#000" stroke-width="1.4"/><circle cx="146.1" cy="248.3" r="3.05" fill="none" stroke="#000" stroke-width="1.4"/><circle cx="165" cy="250.8" r="3.05" fill="none" stroke="#000" stroke-width="1.4"/><circle cx="177.2" cy="252.2" r="3.05" fill="none" stroke="#000" stroke-width="1.4"/><circle cx="193.6" cy="253.4" r="3.05" fill="none" stroke="#000" stroke-width="1.4"/><circle cx="216.2" cy="254.2" r="3.05" fill="none" stroke="#000" stroke-width="1.4"/><circle cx="239.9" cy="252.7" r="3.05" fill="none" stroke="#000" stroke-width="1.4"/><circle cx="265.8" cy="250.4" r="3.05" fill="none" stroke="#000" stroke-width="1.4"/><circle cx="286.7" cy="246.9" r="3.05" fill="none" stroke="#000" stroke-width="1.4"/><circle cx="316.5" cy="243" r="3.05" fill="none" stroke="#000" stroke-width="1.4"/><circle cx="348.5" cy="237.2" r="3.05" fill="none" stroke="#000" stroke-width="1.4"/><circle cx="372.3" cy="232.4" r="3.05" fill="none" stroke="#000" stroke-width="1.4"/><circle cx="391.9" cy="229.4" r="3.05" fill="none" stroke="#000" stroke-width="1.4"/><circle cx="411.6" cy="226.9" r="3.05" fill="none" stroke="#000" stroke-width="1.4"/><circle cx="426.6" cy="226.2" r="3.05" fill="none" stroke="#000" stroke-width="1.4"/><circle cx="438.4" cy="224.8" r="3.05" fill="none" stroke="#000" stroke-width="1.4"/><circle cx="452.7" cy="225.5" r="3.05" fill="none" stroke="#000" stroke-width="1.4"/><circle cx="472.3" cy="226.5" r="3.05" fill="none" stroke="#000" stroke-width="1.4"/><circle cx="491.5" cy="228.5" r="3.05" fill="none" stroke="#000" stroke-width="1.4"/><circle cx="508.1" cy="231.8" r="3.05" fill="none" stroke="#000" stroke-width="1.4"/><path d="M63.9,275.9L64.9,276.02L65.9,276.13L66.9,276.24L67.9,276.35L68.9,276.46L69.9,276.57L70.9,276.68L71.9,276.78L72.9,276.89L73.9,276.99L74.9,277.09L75.9,277.19L76.9,277.29L77.9,277.39L78.9,277.49L79.9,277.59L80.9,277.68L81.9,277.78L82.9,277.87L83.9,277.96L84.9,278.05L85.9,278.14L86.9,278.23L87.9,278.32L88.9,278.41L89.9,278.49L90.9,278.57L91.9,278.66L92.9,278.74L93.9,278.82L94.9,278.9L95.9,278.98L96.9,279.05L97.9,279.13L98.9,279.21L99.9,279.28L100.9,279.35L101.9,279.43L102.9,279.5L103.9,279.57L104.9,279.63L105.9,279.7L106.9,279.77L107.9,279.83L108.9,279.9L109.9,279.96L110.9,280.02L111.9,280.08L112.9,280.14L113.9,280.2L114.9,280.26L115.9,280.32L116.9,280.38L117.9,280.43L118.9,280.48L119.9,280.54L120.9,280.59L121.9,280.64L122.9,280.69L123.9,280.74L124.9,280.79L125.9,280.83L126.9,280.88L127.9,280.92L128.9,280.97L129.9,281.01L130.9,281.05L131.9,281.09L132.9,281.13L133.9,281.17L134.9,281.21L135.9,281.25L136.9,281.28L137.9,281.32L138.9,281.35L139.9,281.38L140.9,281.42L141.9,281.45L142.9,281.48L143.9,281.51L144.9,281.54L145.9,281.56L146.9,281.59L147.9,281.62L148.9,281.64L149.9,281.66L150.9,281.69L151.9,281.71L152.9,281.73L153.9,281.75L154.9,281.77L155.9,281.79L156.9,281.8L157.9,281.82L158.9,281.84L159.9,281.85L160.9,281.87L161.9,281.88L162.9,281.89L163.9,281.9L164.9,281.91L165.9,281.92L166.9,281.93L167.9,281.94L168.9,281.94L169.9,281.95L170.9,281.96L171.9,281.96L172.9,281.96L173.9,281.97L174.9,281.97L175.9,281.97L176.9,281.97L177.9,281.97L178.9,281.97L179.9,281.96L180.9,281.96L181.9,281.96L182.9,281.95L183.9,281.95L184.9,281.94L185.9,281.93L186.9,281.93L187.9,281.92L188.9,281.91L189.9,281.9L190.9,281.89L191.9,281.87L192.9,281.86L193.9,281.85L194.9,281.83L195.9,281.82L196.9,281.8L197.9,281.79L198.9,281.77L199.9,281.75L200.9,281.73L201.9,281.71L202.9,281.69L203.9,281.67L204.9,281.65L205.9,281.63L206.9,281.6L207.9,281.58L208.9,281.56L209.9,281.53L210.9,281.5L211.9,281.48L212.9,281.45L213.9,281.42L214.9,281.39L215.9,281.36L216.9,281.33L217.9,281.3L218.9,281.27L219.9,281.24L220.9,281.21L221.9,281.17L222.9,281.14L223.9,281.1L224.9,281.07L225.9,281.03L226.9,280.99L227.9,280.96L228.9,280.92L229.9,280.88L230.9,280.84L231.9,280.8L232.9,280.76L233.9,280.72L234.9,280.68L235.9,280.63L236.9,280.59L237.9,280.55L238.9,280.5L239.9,280.46L240.9,280.41L241.9,280.36L242.9,280.32L243.9,280.27L244.9,280.22L245.9,280.17L246.9,280.12L247.9,280.07L248.9,280.02L249.9,279.97L250.9,279.92L251.9,279.87L252.9,279.81L253.9,279.76L254.9,279.71L255.9,279.65L256.9,279.6L257.9,279.54L258.9,279.49L259.9,279.43L260.9,279.37L261.9,279.31L262.9,279.26L263.9,279.2L264.9,279.14L265.9,279.08L266.9,279.02L267.9,278.96L268.9,278.89L269.9,278.83L270.9,278.77L271.9,278.71L272.9,278.64L273.9,278.58L274.9,278.51L275.9,278.45L276.9,278.38L277.9,278.32L278.9,278.25L279.9,278.19L280.9,278.12L281.9,278.05L282.9,277.98L283.9,277.91L284.9,277.84L285.9,277.77L286.9,277.7L287.9,277.63L288.9,277.56L289.9,277.49L290.9,277.42L291.9,277.35L292.9,277.27L293.9,277.2L294.9,277.13L295.9,277.06L296.9,276.98L297.9,276.91L298.9,276.83L299.9,276.76L300.9,276.68L301.9,276.61L302.9,276.53L303.9,276.46L304.9,276.38L305.9,276.3L306.9,276.23L307.9,276.15L308.9,276.08L309.9,276L310.9,275.92L311.9,275.85L312.9,275.77L313.9,275.69L314.9,275.61L315.9,275.54L316.9,275.46L317.9,275.38L318.9,275.3L319.9,275.23L320.9,275.15L321.9,275.07L322.9,275L323.9,274.92L324.9,274.84L325.9,274.76L326.9,274.69L327.9,274.61L328.9,274.53L329.9,274.46L330.9,274.38L331.9,274.3L332.9,274.23L333.9,274.15L334.9,274.08L335.9,274L336.9,273.92L337.9,273.85L338.9,273.77L339.9,273.7L340.9,273.63L341.9,273.55L342.9,273.48L343.9,273.4L344.9,273.33L345.9,273.26L346.9,273.19L347.9,273.11L348.9,273.04L349.9,272.97L350.9,272.9L351.9,272.83L352.9,272.76L353.9,272.69L354.9,272.62L355.9,272.55L356.9,272.48L357.9,272.42L358.9,272.35L359.9,272.28L360.9,272.22L361.9,272.15L362.9,272.09L363.9,272.02L364.9,271.96L365.9,271.9L366.9,271.83L367.9,271.77L368.9,271.71L369.9,271.65L370.9,271.59L371.9,271.53L372.9,271.47L373.9,271.41L374.9,271.36L375.9,271.3L376.9,271.24L377.9,271.19L378.9,271.14L379.9,271.08L380.9,271.03L381.9,270.98L382.9,270.93L383.9,270.88L384.9,270.83L385.9,270.78L386.9,270.73L387.9,270.69L388.9,270.64L389.9,270.6L390.9,270.55L391.9,270.51L392.9,270.47L393.9,270.43L394.9,270.39L395.9,270.35L396.9,270.31L397.9,270.28L398.9,270.24L399.9,270.21L400.9,270.17L401.9,270.14L402.9,270.11L403.9,270.08L404.9,270.05L405.9,270.02L406.9,270L407.9,269.97L408.9,269.95L409.9,269.92L410.9,269.9L411.9,269.88L412.9,269.86L413.9,269.84L414.9,269.83L415.9,269.81L416.9,269.8L417.9,269.78L418.9,269.77L419.9,269.76L420.9,269.75L421.9,269.74L422.9,269.74L423.9,269.73L424.9,269.73L425.9,269.73L426.9,269.73L427.9,269.73L428.9,269.73L429.9,269.73L430.9,269.74L431.9,269.74L432.9,269.75L433.9,269.76L434.9,269.77L435.9,269.79L436.9,269.8L437.9,269.82L438.9,269.83L439.9,269.85L440.9,269.87L441.9,269.9L442.9,269.92L443.9,269.94L444.9,269.97L445.9,270L446.9,270.03L447.9,270.06L448.9,270.1L449.9,270.13L450.9,270.17L451.9,270.21L452.9,270.25L453.9,270.29L454.9,270.34L455.9,270.38L456.9,270.43L457.9,270.48L458.9,270.53L459.9,270.59L460.9,270.64L461.9,270.7L462.9,270.76L463.9,270.82L464.9,270.88L465.9,270.94L466.9,271.01L467.9,271.08L468.9,271.15L469.9,271.22L470.9,271.29L471.9,271.37L472.9,271.44L473.9,271.52L474.9,271.6L475.9,271.68L476.9,271.77L477.9,271.85L478.9,271.94L479.9,272.03L480.9,272.12L481.9,272.21L482.9,272.31L483.9,272.41L484.9,272.5L485.9,272.6L486.9,272.71L487.9,272.81L488.9,272.92L489.9,273.03L490.9,273.14L491.9,273.25L492.9,273.36L493.9,273.48L494.9,273.59L495.9,273.71L496.9,273.83L497.9,273.96L498.9,274.08L499.9,274.21L500.9,274.34L501.9,274.47L502.9,274.6L503.9,274.74L504.9,274.87L505.9,275.01L506.9,275.15L507.9,275.3L508.9,275.44L509.2,275.48" fill="none" stroke="#d0102a" stroke-width="1.6" stroke-dasharray="1.2 4.65" stroke-linecap="butt" stroke-linejoin="round"/><rect x="64.7" y="282.2" width="5.4" height="5.4" fill="none" stroke="#ff0000" stroke-width="1.45"/><rect x="83.4" y="285.7" width="5.4" height="5.4" fill="none" stroke="#ff0000" stroke-width="1.45"/><rect x="99.5" y="287.8" width="5.4" height="5.4" fill="none" stroke="#ff0000" stroke-width="1.45"/><rect x="115" y="289.1" width="5.4" height="5.4" fill="none" stroke="#ff0000" stroke-width="1.45"/><rect x="136.9" y="291.5" width="5.4" height="5.4" fill="none" stroke="#ff0000" stroke-width="1.45"/><rect x="157.7" y="292.6" width="5.4" height="5.4" fill="none" stroke="#ff0000" stroke-width="1.45"/><rect x="173.1" y="293.1" width="5.4" height="5.4" fill="none" stroke="#ff0000" stroke-width="1.45"/><rect x="185.8" y="293.1" width="5.4" height="5.4" fill="none" stroke="#ff0000" stroke-width="1.45"/><rect x="202.4" y="293.1" width="5.4" height="5.4" fill="none" stroke="#ff0000" stroke-width="1.45"/><rect x="223.8" y="291.9" width="5.4" height="5.4" fill="none" stroke="#ff0000" stroke-width="1.45"/><rect x="245.1" y="290.3" width="5.4" height="5.4" fill="none" stroke="#ff0000" stroke-width="1.45"/><rect x="267.2" y="287.3" width="5.4" height="5.4" fill="none" stroke="#ff0000" stroke-width="1.45"/><rect x="292.3" y="285.5" width="5.4" height="5.4" fill="none" stroke="#ff0000" stroke-width="1.45"/><rect x="318.4" y="282.2" width="5.4" height="5.4" fill="none" stroke="#ff0000" stroke-width="1.45"/><rect x="332" y="280.8" width="5.4" height="5.4" fill="none" stroke="#ff0000" stroke-width="1.45"/><rect x="348.4" y="278.5" width="5.4" height="5.4" fill="none" stroke="#ff0000" stroke-width="1.45"/><rect x="372.4" y="276.9" width="5.4" height="5.4" fill="none" stroke="#ff0000" stroke-width="1.45"/><rect x="406.1" y="275.3" width="5.4" height="5.4" fill="none" stroke="#ff0000" stroke-width="1.45"/><rect x="424.8" y="275.3" width="5.4" height="5.4" fill="none" stroke="#ff0000" stroke-width="1.45"/><rect x="445.5" y="275.8" width="5.4" height="5.4" fill="none" stroke="#ff0000" stroke-width="1.45"/><rect x="461.9" y="277.6" width="5.4" height="5.4" fill="none" stroke="#ff0000" stroke-width="1.45"/><rect x="477.2" y="278.1" width="5.4" height="5.4" fill="none" stroke="#ff0000" stroke-width="1.45"/><rect x="488.2" y="280.5" width="5.4" height="5.4" fill="none" stroke="#ff0000" stroke-width="1.45"/><rect x="503" y="282.3" width="5.4" height="5.4" fill="none" stroke="#ff0000" stroke-width="1.45"/><path d="M63.9,297.91L64.9,297.99L65.9,298.08L66.9,298.16L67.9,298.24L68.9,298.32L69.9,298.4L70.9,298.48L71.9,298.55L72.9,298.63L73.9,298.7L74.9,298.77L75.9,298.85L76.9,298.92L77.9,298.99L78.9,299.05L79.9,299.12L80.9,299.19L81.9,299.25L82.9,299.31L83.9,299.38L84.9,299.44L85.9,299.5L86.9,299.56L87.9,299.61L88.9,299.67L89.9,299.73L90.9,299.78L91.9,299.83L92.9,299.89L93.9,299.94L94.9,299.99L95.9,300.04L96.9,300.08L97.9,300.13L98.9,300.18L99.9,300.22L100.9,300.26L101.9,300.3L102.9,300.35L103.9,300.39L104.9,300.42L105.9,300.46L106.9,300.5L107.9,300.53L108.9,300.57L109.9,300.6L110.9,300.64L111.9,300.67L112.9,300.7L113.9,300.73L114.9,300.75L115.9,300.78L116.9,300.81L117.9,300.83L118.9,300.86L119.9,300.88L120.9,300.9L121.9,300.92L122.9,300.94L123.9,300.96L124.9,300.98L125.9,301L126.9,301.01L127.9,301.03L128.9,301.04L129.9,301.05L130.9,301.06L131.9,301.08L132.9,301.09L133.9,301.09L134.9,301.1L135.9,301.11L136.9,301.11L137.9,301.12L138.9,301.12L139.9,301.13L140.9,301.13L141.9,301.13L142.9,301.13L143.9,301.13L144.9,301.13L145.9,301.12L146.9,301.12L147.9,301.11L148.9,301.11L149.9,301.1L150.9,301.09L151.9,301.09L152.9,301.08L153.9,301.07L154.9,301.05L155.9,301.04L156.9,301.03L157.9,301.02L158.9,301L159.9,300.98L160.9,300.97L161.9,300.95L162.9,300.93L163.9,300.91L164.9,300.89L165.9,300.87L166.9,300.85L167.9,300.82L168.9,300.8L169.9,300.78L170.9,300.75L171.9,300.72L172.9,300.7L173.9,300.67L174.9,300.64L175.9,300.61L176.9,300.58L177.9,300.55L178.9,300.51L179.9,300.48L180.9,300.45L181.9,300.41L182.9,300.37L183.9,300.34L184.9,300.3L185.9,300.26L186.9,300.22L187.9,300.18L188.9,300.14L189.9,300.1L190.9,300.06L191.9,300.02L192.9,299.98L193.9,299.93L194.9,299.89L195.9,299.84L196.9,299.8L197.9,299.75L198.9,299.71L199.9,299.66L200.9,299.61L201.9,299.56L202.9,299.51L203.9,299.46L204.9,299.41L205.9,299.36L206.9,299.31L207.9,299.26L208.9,299.21L209.9,299.16L210.9,299.11L211.9,299.05L212.9,299L213.9,298.95L214.9,298.89L215.9,298.84L216.9,298.78L217.9,298.73L218.9,298.67L219.9,298.61L220.9,298.56L221.9,298.5L222.9,298.44L223.9,298.39L224.9,298.33L225.9,298.27L226.9,298.21L227.9,298.16L228.9,298.1L229.9,298.04L230.9,297.98L231.9,297.92L232.9,297.86L233.9,297.8L234.9,297.74L235.9,297.68L236.9,297.62L237.9,297.56L238.9,297.5L239.9,297.44L240.9,297.38L241.9,297.32L242.9,297.26L243.9,297.2L244.9,297.14L245.9,297.08L246.9,297.02L247.9,296.96L248.9,296.9L249.9,296.84L250.9,296.78L251.9,296.72L252.9,296.66L253.9,296.6L254.9,296.54L255.9,296.48L256.9,296.42L257.9,296.36L258.9,296.3L259.9,296.25L260.9,296.19L261.9,296.13L262.9,296.07L263.9,296.01L264.9,295.95L265.9,295.9L266.9,295.84L267.9,295.78L268.9,295.72L269.9,295.67L270.9,295.61L271.9,295.55L272.9,295.5L273.9,295.44L274.9,295.39L275.9,295.33L276.9,295.28L277.9,295.22L278.9,295.17L279.9,295.12L280.9,295.06L281.9,295.01L282.9,294.96L283.9,294.91L284.9,294.86L285.9,294.81L286.9,294.76L287.9,294.71L288.9,294.66L289.9,294.61L290.9,294.56L291.9,294.51L292.9,294.47L293.9,294.42L294.9,294.37L295.9,294.33L296.9,294.28L297.9,294.24L298.9,294.19L299.9,294.15L300.9,294.11L301.9,294.06L302.9,294.02L303.9,293.98L304.9,293.94L305.9,293.9L306.9,293.86L307.9,293.82L308.9,293.78L309.9,293.74L310.9,293.7L311.9,293.66L312.9,293.63L313.9,293.59L314.9,293.55L315.9,293.52L316.9,293.48L317.9,293.45L318.9,293.42L319.9,293.38L320.9,293.35L321.9,293.32L322.9,293.29L323.9,293.25L324.9,293.22L325.9,293.19L326.9,293.16L327.9,293.13L328.9,293.11L329.9,293.08L330.9,293.05L331.9,293.02L332.9,293L333.9,292.97L334.9,292.95L335.9,292.92L336.9,292.9L337.9,292.87L338.9,292.85L339.9,292.83L340.9,292.81L341.9,292.79L342.9,292.76L343.9,292.74L344.9,292.72L345.9,292.71L346.9,292.69L347.9,292.67L348.9,292.65L349.9,292.63L350.9,292.62L351.9,292.6L352.9,292.59L353.9,292.57L354.9,292.56L355.9,292.55L356.9,292.53L357.9,292.52L358.9,292.51L359.9,292.5L360.9,292.49L361.9,292.48L362.9,292.47L363.9,292.46L364.9,292.45L365.9,292.44L366.9,292.44L367.9,292.43L368.9,292.42L369.9,292.42L370.9,292.41L371.9,292.41L372.9,292.41L373.9,292.4L374.9,292.4L375.9,292.4L376.9,292.4L377.9,292.4L378.9,292.4L379.9,292.4L380.9,292.4L381.9,292.4L382.9,292.41L383.9,292.41L384.9,292.41L385.9,292.42L386.9,292.42L387.9,292.43L388.9,292.43L389.9,292.44L390.9,292.45L391.9,292.46L392.9,292.47L393.9,292.47L394.9,292.48L395.9,292.5L396.9,292.51L397.9,292.52L398.9,292.53L399.9,292.54L400.9,292.56L401.9,292.57L402.9,292.59L403.9,292.6L404.9,292.62L405.9,292.64L406.9,292.66L407.9,292.67L408.9,292.69L409.9,292.71L410.9,292.73L411.9,292.75L412.9,292.78L413.9,292.8L414.9,292.82L415.9,292.84L416.9,292.87L417.9,292.89L418.9,292.92L419.9,292.94L420.9,292.97L421.9,293L422.9,293.03L423.9,293.06L424.9,293.09L425.9,293.12L426.9,293.15L427.9,293.18L428.9,293.21L429.9,293.24L430.9,293.28L431.9,293.31L432.9,293.35L433.9,293.38L434.9,293.42L435.9,293.46L436.9,293.49L437.9,293.53L438.9,293.57L439.9,293.61L440.9,293.65L441.9,293.69L442.9,293.73L443.9,293.78L444.9,293.82L445.9,293.86L446.9,293.91L447.9,293.95L448.9,294L449.9,294.04L450.9,294.09L451.9,294.14L452.9,294.19L453.9,294.24L454.9,294.29L455.9,294.34L456.9,294.39L457.9,294.44L458.9,294.5L459.9,294.55L460.9,294.6L461.9,294.66L462.9,294.72L463.9,294.77L464.9,294.83L465.9,294.89L466.9,294.95L467.9,295.01L468.9,295.07L469.9,295.13L470.9,295.19L471.9,295.25L472.9,295.31L473.9,295.38L474.9,295.44L475.9,295.51L476.9,295.57L477.9,295.64L478.9,295.71L479.9,295.78L480.9,295.85L481.9,295.92L482.9,295.99L483.9,296.06L484.9,296.13L485.9,296.2L486.9,296.28L487.9,296.35L488.9,296.42L489.9,296.5L490.9,296.58L491.9,296.65L492.9,296.73L493.9,296.81L494.9,296.89L495.9,296.97L496.9,297.05L497.9,297.13L498.9,297.22L499.9,297.3L500.9,297.38L501.9,297.47L502.9,297.55L503.9,297.64L504.9,297.73L505.9,297.82L506.9,297.9L507.9,297.99L508.9,298.08L509.2,298.11" fill="none" stroke="#008b00" stroke-width="1.6" stroke-dasharray="9.8 4.6" stroke-linecap="butt" stroke-linejoin="round"/><path d="M75,300.2L78,305.4L72,305.4Z" fill="none" stroke="#008b00" stroke-width="1.45" stroke-linejoin="miter"/><path d="M89.5,301.8L92.5,307L86.5,307Z" fill="none" stroke="#008b00" stroke-width="1.45" stroke-linejoin="miter"/><path d="M113.5,303.7L116.5,308.9L110.5,308.9Z" fill="none" stroke="#008b00" stroke-width="1.45" stroke-linejoin="miter"/><path d="M128.1,304.3L131.1,309.5L125.1,309.5Z" fill="none" stroke="#008b00" stroke-width="1.45" stroke-linejoin="miter"/><path d="M146.5,306L149.5,311.2L143.5,311.2Z" fill="none" stroke="#008b00" stroke-width="1.45" stroke-linejoin="miter"/><path d="M174.4,306L177.4,311.2L171.4,311.2Z" fill="none" stroke="#008b00" stroke-width="1.45" stroke-linejoin="miter"/><path d="M201.2,304.8L204.2,310L198.2,310Z" fill="none" stroke="#008b00" stroke-width="1.45" stroke-linejoin="miter"/><path d="M229.5,303.7L232.5,308.9L226.5,308.9Z" fill="none" stroke="#008b00" stroke-width="1.45" stroke-linejoin="miter"/><path d="M255.8,301.3L258.8,306.5L252.8,306.5Z" fill="none" stroke="#008b00" stroke-width="1.45" stroke-linejoin="miter"/><path d="M278.5,299.5L281.5,304.7L275.5,304.7Z" fill="none" stroke="#008b00" stroke-width="1.45" stroke-linejoin="miter"/><path d="M305.4,297.9L308.4,303.1L302.4,303.1Z" fill="none" stroke="#008b00" stroke-width="1.45" stroke-linejoin="miter"/><path d="M357.3,293.3L360.3,298.5L354.3,298.5Z" fill="none" stroke="#008b00" stroke-width="1.45" stroke-linejoin="miter"/><path d="M382.7,292.6L385.7,297.8L379.7,297.8Z" fill="none" stroke="#008b00" stroke-width="1.45" stroke-linejoin="miter"/><path d="M404.1,293.1L407.1,298.3L401.1,298.3Z" fill="none" stroke="#008b00" stroke-width="1.45" stroke-linejoin="miter"/><path d="M432.7,294.3L435.7,299.5L429.7,299.5Z" fill="none" stroke="#008b00" stroke-width="1.45" stroke-linejoin="miter"/><path d="M459.9,295.9L462.9,301.1L456.9,301.1Z" fill="none" stroke="#008b00" stroke-width="1.45" stroke-linejoin="miter"/><path d="M486.2,297.5L489.2,302.7L483.2,302.7Z" fill="none" stroke="#008b00" stroke-width="1.45" stroke-linejoin="miter"/><path d="M506.1,297.5L509.1,302.7L503.1,302.7Z" fill="none" stroke="#008b00" stroke-width="1.45" stroke-linejoin="miter"/><path d="M63.9,306.61L64.9,306.62L65.9,306.63L66.9,306.64L67.9,306.65L68.9,306.65L69.9,306.66L70.9,306.67L71.9,306.67L72.9,306.68L73.9,306.68L74.9,306.69L75.9,306.69L76.9,306.7L77.9,306.7L78.9,306.7L79.9,306.71L80.9,306.71L81.9,306.71L82.9,306.71L83.9,306.71L84.9,306.71L85.9,306.71L86.9,306.71L87.9,306.71L88.9,306.7L89.9,306.7L90.9,306.7L91.9,306.7L92.9,306.69L93.9,306.69L94.9,306.68L95.9,306.68L96.9,306.67L97.9,306.67L98.9,306.66L99.9,306.65L100.9,306.64L101.9,306.64L102.9,306.63L103.9,306.62L104.9,306.61L105.9,306.6L106.9,306.59L107.9,306.58L108.9,306.57L109.9,306.56L110.9,306.55L111.9,306.54L112.9,306.53L113.9,306.51L114.9,306.5L115.9,306.49L116.9,306.47L117.9,306.46L118.9,306.45L119.9,306.43L120.9,306.42L121.9,306.4L122.9,306.39L123.9,306.37L124.9,306.35L125.9,306.34L126.9,306.32L127.9,306.3L128.9,306.29L129.9,306.27L130.9,306.25L131.9,306.23L132.9,306.21L133.9,306.19L134.9,306.17L135.9,306.15L136.9,306.13L137.9,306.11L138.9,306.09L139.9,306.07L140.9,306.05L141.9,306.03L142.9,306.01L143.9,305.99L144.9,305.96L145.9,305.94L146.9,305.92L147.9,305.9L148.9,305.87L149.9,305.85L150.9,305.83L151.9,305.8L152.9,305.78L153.9,305.75L154.9,305.73L155.9,305.7L156.9,305.68L157.9,305.65L158.9,305.63L159.9,305.6L160.9,305.58L161.9,305.55L162.9,305.52L163.9,305.5L164.9,305.47L165.9,305.44L166.9,305.42L167.9,305.39L168.9,305.36L169.9,305.33L170.9,305.31L171.9,305.28L172.9,305.25L173.9,305.22L174.9,305.19L175.9,305.17L176.9,305.14L177.9,305.11L178.9,305.08L179.9,305.05L180.9,305.02L181.9,304.99L182.9,304.96L183.9,304.93L184.9,304.9L185.9,304.87L186.9,304.84L187.9,304.81L188.9,304.78L189.9,304.75L190.9,304.72L191.9,304.69L192.9,304.66L193.9,304.63L194.9,304.6L195.9,304.57L196.9,304.54L197.9,304.5L198.9,304.47L199.9,304.44L200.9,304.41L201.9,304.38L202.9,304.35L203.9,304.32L204.9,304.29L205.9,304.25L206.9,304.22L207.9,304.19L208.9,304.16L209.9,304.13L210.9,304.1L211.9,304.06L212.9,304.03L213.9,304L214.9,303.97L215.9,303.94L216.9,303.9L217.9,303.87L218.9,303.84L219.9,303.81L220.9,303.78L221.9,303.75L222.9,303.71L223.9,303.68L224.9,303.65L225.9,303.62L226.9,303.59L227.9,303.55L228.9,303.52L229.9,303.49L230.9,303.46L231.9,303.43L232.9,303.4L233.9,303.37L234.9,303.33L235.9,303.3L236.9,303.27L237.9,303.24L238.9,303.21L239.9,303.18L240.9,303.15L241.9,303.12L242.9,303.08L243.9,303.05L244.9,303.02L245.9,302.99L246.9,302.96L247.9,302.93L248.9,302.9L249.9,302.87L250.9,302.84L251.9,302.81L252.9,302.78L253.9,302.75L254.9,302.72L255.9,302.69L256.9,302.66L257.9,302.63L258.9,302.61L259.9,302.58L260.9,302.55L261.9,302.52L262.9,302.49L263.9,302.46L264.9,302.43L265.9,302.41L266.9,302.38L267.9,302.35L268.9,302.32L269.9,302.3L270.9,302.27L271.9,302.24L272.9,302.21L273.9,302.19L274.9,302.16L275.9,302.14L276.9,302.11L277.9,302.08L278.9,302.06L279.9,302.03L280.9,302.01L281.9,301.98L282.9,301.96L283.9,301.93L284.9,301.91L285.9,301.89L286.9,301.86L287.9,301.84L288.9,301.82L289.9,301.79L290.9,301.77L291.9,301.75L292.9,301.72L293.9,301.7L294.9,301.68L295.9,301.66L296.9,301.64L297.9,301.62L298.9,301.6L299.9,301.58L300.9,301.56L301.9,301.54L302.9,301.52L303.9,301.5L304.9,301.48L305.9,301.46L306.9,301.44L307.9,301.42L308.9,301.4L309.9,301.39L310.9,301.37L311.9,301.35L312.9,301.34L313.9,301.32L314.9,301.3L315.9,301.29L316.9,301.27L317.9,301.26L318.9,301.24L319.9,301.23L320.9,301.21L321.9,301.2L322.9,301.18L323.9,301.17L324.9,301.16L325.9,301.14L326.9,301.13L327.9,301.12L328.9,301.11L329.9,301.1L330.9,301.08L331.9,301.07L332.9,301.06L333.9,301.05L334.9,301.04L335.9,301.03L336.9,301.02L337.9,301.02L338.9,301.01L339.9,301L340.9,300.99L341.9,300.98L342.9,300.98L343.9,300.97L344.9,300.96L345.9,300.96L346.9,300.95L347.9,300.94L348.9,300.94L349.9,300.93L350.9,300.93L351.9,300.93L352.9,300.92L353.9,300.92L354.9,300.92L355.9,300.91L356.9,300.91L357.9,300.91L358.9,300.91L359.9,300.91L360.9,300.91L361.9,300.91L362.9,300.91L363.9,300.91L364.9,300.91L365.9,300.91L366.9,300.91L367.9,300.91L368.9,300.91L369.9,300.92L370.9,300.92L371.9,300.92L372.9,300.93L373.9,300.93L374.9,300.94L375.9,300.94L376.9,300.95L377.9,300.95L378.9,300.96L379.9,300.97L380.9,300.97L381.9,300.98L382.9,300.99L383.9,301L384.9,301.01L385.9,301.01L386.9,301.02L387.9,301.03L388.9,301.04L389.9,301.06L390.9,301.07L391.9,301.08L392.9,301.09L393.9,301.1L394.9,301.12L395.9,301.13L396.9,301.14L397.9,301.16L398.9,301.17L399.9,301.19L400.9,301.2L401.9,301.22L402.9,301.24L403.9,301.25L404.9,301.27L405.9,301.29L406.9,301.31L407.9,301.33L408.9,301.34L409.9,301.36L410.9,301.38L411.9,301.4L412.9,301.43L413.9,301.45L414.9,301.47L415.9,301.49L416.9,301.51L417.9,301.54L418.9,301.56L419.9,301.58L420.9,301.61L421.9,301.63L422.9,301.66L423.9,301.68L424.9,301.71L425.9,301.73L426.9,301.76L427.9,301.79L428.9,301.82L429.9,301.84L430.9,301.87L431.9,301.9L432.9,301.93L433.9,301.96L434.9,301.99L435.9,302.02L436.9,302.05L437.9,302.09L438.9,302.12L439.9,302.15L440.9,302.18L441.9,302.22L442.9,302.25L443.9,302.28L444.9,302.32L445.9,302.35L446.9,302.39L447.9,302.42L448.9,302.46L449.9,302.5L450.9,302.53L451.9,302.57L452.9,302.61L453.9,302.65L454.9,302.69L455.9,302.73L456.9,302.77L457.9,302.81L458.9,302.85L459.9,302.89L460.9,302.93L461.9,302.97L462.9,303.01L463.9,303.06L464.9,303.1L465.9,303.14L466.9,303.19L467.9,303.23L468.9,303.28L469.9,303.32L470.9,303.37L471.9,303.41L472.9,303.46L473.9,303.51L474.9,303.55L475.9,303.6L476.9,303.65L477.9,303.7L478.9,303.75L479.9,303.8L480.9,303.85L481.9,303.9L482.9,303.95L483.9,304L484.9,304.05L485.9,304.1L486.9,304.16L487.9,304.21L488.9,304.26L489.9,304.32L490.9,304.37L491.9,304.43L492.9,304.48L493.9,304.54L494.9,304.59L495.9,304.65L496.9,304.71L497.9,304.76L498.9,304.82L499.9,304.88L500.9,304.94L501.9,305L502.9,305.06L503.9,305.12L504.9,305.18L505.9,305.24L506.9,305.3L507.9,305.36L508.9,305.42L509.2,305.44" fill="none" stroke="#0000ff" stroke-width="1.6" stroke-dasharray="7.3 5.3 1.2 4.3 1.2 4.4" stroke-dashoffset="0" stroke-linecap="butt" stroke-linejoin="round"/><path d="M65.1,303.8L66.06,304.99L67.57,304.83L67.41,306.34L68.6,307.3L67.41,308.26L67.57,309.77L66.06,309.61L65.1,310.8L64.14,309.61L62.63,309.77L62.79,308.26L61.6,307.3L62.79,306.34L62.63,304.83L64.14,304.99Z" fill="#0000ff"/><path d="M83.1,303.3L84.06,304.49L85.57,304.33L85.41,305.84L86.6,306.8L85.41,307.76L85.57,309.27L84.06,309.11L83.1,310.3L82.14,309.11L80.63,309.27L80.79,307.76L79.6,306.8L80.79,305.84L80.63,304.33L82.14,304.49Z" fill="#0000ff"/><path d="M100.4,304.5L101.36,305.69L102.87,305.53L102.71,307.04L103.9,308L102.71,308.96L102.87,310.47L101.36,310.31L100.4,311.5L99.44,310.31L97.93,310.47L98.09,308.96L96.9,308L98.09,307.04L97.93,305.53L99.44,305.69Z" fill="#0000ff"/><path d="M120.5,304.3L121.46,305.49L122.97,305.33L122.81,306.84L124,307.8L122.81,308.76L122.97,310.27L121.46,310.11L120.5,311.3L119.54,310.11L118.03,310.27L118.19,308.76L117,307.8L118.19,306.84L118.03,305.33L119.54,305.49Z" fill="#0000ff"/><path d="M166.2,303.3L167.16,304.49L168.67,304.33L168.51,305.84L169.7,306.8L168.51,307.76L168.67,309.27L167.16,309.11L166.2,310.3L165.24,309.11L163.73,309.27L163.89,307.76L162.7,306.8L163.89,305.84L163.73,304.33L165.24,304.49Z" fill="#0000ff"/><path d="M194.2,303.8L195.16,304.99L196.67,304.83L196.51,306.34L197.7,307.3L196.51,308.26L196.67,309.77L195.16,309.61L194.2,310.8L193.24,309.61L191.73,309.77L191.89,308.26L190.7,307.3L191.89,306.34L191.73,304.83L193.24,304.99Z" fill="#0000ff"/><path d="M222.6,302.7L223.56,303.89L225.07,303.73L224.91,305.24L226.1,306.2L224.91,307.16L225.07,308.67L223.56,308.51L222.6,309.7L221.64,308.51L220.13,308.67L220.29,307.16L219.1,306.2L220.29,305.24L220.13,303.73L221.64,303.89Z" fill="#0000ff"/><path d="M240.4,302.2L241.36,303.39L242.87,303.23L242.71,304.74L243.9,305.7L242.71,306.66L242.87,308.17L241.36,308.01L240.4,309.2L239.44,308.01L237.93,308.17L238.09,306.66L236.9,305.7L238.09,304.74L237.93,303.23L239.44,303.39Z" fill="#0000ff"/><path d="M255.4,300.8L256.36,301.99L257.87,301.83L257.71,303.34L258.9,304.3L257.71,305.26L257.87,306.77L256.36,306.61L255.4,307.8L254.44,306.61L252.93,306.77L253.09,305.26L251.9,304.3L253.09,303.34L252.93,301.83L254.44,301.99Z" fill="#0000ff"/><path d="M268.5,299.9L269.46,301.09L270.97,300.93L270.81,302.44L272,303.4L270.81,304.36L270.97,305.87L269.46,305.71L268.5,306.9L267.54,305.71L266.03,305.87L266.19,304.36L265,303.4L266.19,302.44L266.03,300.93L267.54,301.09Z" fill="#0000ff"/><path d="M294.3,299.9L295.26,301.09L296.77,300.93L296.61,302.44L297.8,303.4L296.61,304.36L296.77,305.87L295.26,305.71L294.3,306.9L293.34,305.71L291.83,305.87L291.99,304.36L290.8,303.4L291.99,302.44L291.83,300.93L293.34,301.09Z" fill="#0000ff"/><path d="M313,298.7L313.96,299.89L315.47,299.73L315.31,301.24L316.5,302.2L315.31,303.16L315.47,304.67L313.96,304.51L313,305.7L312.04,304.51L310.53,304.67L310.69,303.16L309.5,302.2L310.69,301.24L310.53,299.73L312.04,299.89Z" fill="#0000ff"/><path d="M333.5,298L334.46,299.19L335.97,299.03L335.81,300.54L337,301.5L335.81,302.46L335.97,303.97L334.46,303.81L333.5,305L332.54,303.81L331.03,303.97L331.19,302.46L330,301.5L331.19,300.54L331.03,299.03L332.54,299.19Z" fill="#0000ff"/><path d="M352,298L352.96,299.19L354.47,299.03L354.31,300.54L355.5,301.5L354.31,302.46L354.47,303.97L352.96,303.81L352,305L351.04,303.81L349.53,303.97L349.69,302.46L348.5,301.5L349.69,300.54L349.53,299.03L351.04,299.19Z" fill="#0000ff"/><path d="M370,297.6L370.96,298.79L372.47,298.63L372.31,300.14L373.5,301.1L372.31,302.06L372.47,303.57L370.96,303.41L370,304.6L369.04,303.41L367.53,303.57L367.69,302.06L366.5,301.1L367.69,300.14L367.53,298.63L369.04,298.79Z" fill="#0000ff"/><path d="M397.7,297.6L398.66,298.79L400.17,298.63L400.01,300.14L401.2,301.1L400.01,302.06L400.17,303.57L398.66,303.41L397.7,304.6L396.74,303.41L395.23,303.57L395.39,302.06L394.2,301.1L395.39,300.14L395.23,298.63L396.74,298.79Z" fill="#0000ff"/><path d="M418.2,298.4L419.16,299.59L420.67,299.43L420.51,300.94L421.7,301.9L420.51,302.86L420.67,304.37L419.16,304.21L418.2,305.4L417.24,304.21L415.73,304.37L415.89,302.86L414.7,301.9L415.89,300.94L415.73,299.43L417.24,299.59Z" fill="#0000ff"/><path d="M438.1,299.6L439.06,300.79L440.57,300.63L440.41,302.14L441.6,303.1L440.41,304.06L440.57,305.57L439.06,305.41L438.1,306.6L437.14,305.41L435.63,305.57L435.79,304.06L434.6,303.1L435.79,302.14L435.63,300.63L437.14,300.79Z" fill="#0000ff"/><path d="M460.4,300.1L461.36,301.29L462.87,301.13L462.71,302.64L463.9,303.6L462.71,304.56L462.87,306.07L461.36,305.91L460.4,307.1L459.44,305.91L457.93,306.07L458.09,304.56L456.9,303.6L458.09,302.64L457.93,301.13L459.44,301.29Z" fill="#0000ff"/><path d="M479.6,300.8L480.56,301.99L482.07,301.83L481.91,303.34L483.1,304.3L481.91,305.26L482.07,306.77L480.56,306.61L479.6,307.8L478.64,306.61L477.13,306.77L477.29,305.26L476.1,304.3L477.29,303.34L477.13,301.83L478.64,301.99Z" fill="#0000ff"/><path d="M505.7,301.9L506.66,303.09L508.17,302.93L508.01,304.44L509.2,305.4L508.01,306.36L508.17,307.87L506.66,307.71L505.7,308.9L504.74,307.71L503.23,307.87L503.39,306.36L502.2,305.4L503.39,304.44L503.23,302.93L504.74,303.09Z" fill="#0000ff"/><path d="M63.9,361.88L64.9,361.89L65.9,361.9L66.9,361.91L67.9,361.92L68.9,361.92L69.9,361.93L70.9,361.94L71.9,361.94L72.9,361.95L73.9,361.95L74.9,361.95L75.9,361.95L76.9,361.96L77.9,361.96L78.9,361.96L79.9,361.96L80.9,361.96L81.9,361.96L82.9,361.96L83.9,361.96L84.9,361.96L85.9,361.95L86.9,361.95L87.9,361.95L88.9,361.95L89.9,361.94L90.9,361.94L91.9,361.93L92.9,361.93L93.9,361.93L94.9,361.92L95.9,361.92L96.9,361.91L97.9,361.91L98.9,361.9L99.9,361.89L100.9,361.89L101.9,361.88L102.9,361.88L103.9,361.87L104.9,361.87L105.9,361.86L106.9,361.85L107.9,361.85L108.9,361.84L109.9,361.83L110.9,361.83L111.9,361.82L112.9,361.82L113.9,361.81L114.9,361.8L115.9,361.8L116.9,361.79L117.9,361.79L118.9,361.78L119.9,361.78L120.9,361.77L121.9,361.77L122.9,361.76L123.9,361.76L124.9,361.76L125.9,361.75L126.9,361.75L127.9,361.75L128.9,361.74L129.9,361.74L130.9,361.74L131.9,361.74L132.9,361.74L133.9,361.74L134.9,361.74L135.9,361.74L136.9,361.74L137.9,361.74L138.9,361.74L139.9,361.74L140.9,361.75L141.9,361.75L142.9,361.76L143.9,361.76L144.9,361.77L145.9,361.77L146.9,361.78L147.9,361.79L148.9,361.79L149.9,361.8L150.9,361.81L151.9,361.82L152.9,361.83L153.9,361.84L154.9,361.86L155.9,361.87L156.9,361.88L157.9,361.9L158.9,361.91L159.9,361.93L160.9,361.95L161.9,361.97L162.9,361.99L163.9,362.01L164.9,362.03L165.9,362.05L166.9,362.07L167.9,362.1L168.9,362.12L169.9,362.15L170.9,362.17L171.9,362.2L172.9,362.23L173.9,362.26L174.9,362.29L175.9,362.33L176.9,362.36L177.9,362.4L178.9,362.43L179.9,362.47L180.9,362.51L181.9,362.55L182.9,362.59L183.9,362.63L184.9,362.68L185.9,362.72L186.9,362.77L187.9,362.81L188.9,362.86L189.9,362.91L190.9,362.97L191.9,363.02L192.9,363.07L193.9,363.13L194.9,363.19L195.9,363.25L196.9,363.31L197.9,363.37L198.9,363.43L199.9,363.5L200.9,363.56L201.9,363.63L202.9,363.7L203.9,363.77L204.9,363.85L205.9,363.92L206.9,364L207.9,364.08L208.9,364.16L209.9,364.24L210.9,364.32L211.9,364.41L212.9,364.49L213.9,364.58L214.9,364.67L215.9,364.76L216.9,364.86L217.9,364.95L218.9,365.05L219.9,365.15L220.9,365.25L221.9,365.36L222.9,365.46L223.9,365.57L224.9,365.68L225.9,365.79L226.9,365.9L227.9,366.02L228.9,366.13L229.9,366.25L230.9,366.37L231.9,366.5L232.9,366.62L233.9,366.75L234.9,366.88L235.9,367.01L236.9,367.15L237.9,367.28L238.9,367.42L239.9,367.56L240.9,367.71L241.9,367.85L242.9,368L243.9,368.15L244.9,368.3L245.9,368.45L246.9,368.61L247.9,368.77L248.9,368.93L249.9,369.09L250.9,369.25L251.9,369.42L252.9,369.59L253.9,369.76L254.9,369.93L255.9,370.11L256.9,370.28L257.9,370.46L258.9,370.64L259.9,370.82L260.9,371.01L261.9,371.19L262.9,371.38L263.9,371.57L264.9,371.76L265.9,371.96L266.9,372.15L267.9,372.35L268.9,372.55L269.9,372.75L270.9,372.95L271.9,373.16L272.9,373.37L273.9,373.57L274.9,373.78L275.9,374L276.9,374.21L277.9,374.43L278.9,374.64L279.9,374.86L280.9,375.08L281.9,375.3L282.9,375.53L283.9,375.75L284.9,375.98L285.9,376.21L286.9,376.44L287.9,376.67L288.9,376.9L289.9,377.14L290.9,377.37L291.9,377.61L292.9,377.85L293.9,378.09L294.9,378.33L295.9,378.58L296.9,378.82L297.9,379.07L298.9,379.32L299.9,379.57L300.9,379.82L301.9,380.07L302.9,380.32L303.9,380.58L304.9,380.83L305.9,381.09L306.9,381.35L307.9,381.61L308.9,381.87L309.9,382.13L310.9,382.4L311.9,382.66L312.9,382.93L313.9,383.2L314.9,383.47L315.9,383.74L316.9,384.01L317.9,384.28L318.9,384.55L319.9,384.83L320.9,385.1L321.9,385.38L322.9,385.66L323.9,385.94L324.9,386.22L325.9,386.5L326.9,386.78L327.9,387.06L328.9,387.35L329.9,387.63L330.9,387.92L331.9,388.21L332.9,388.5L333.9,388.78L334.9,389.07L335.9,389.37L336.9,389.66L337.9,389.95L338.9,390.24L339.9,390.54L340.9,390.83L341.9,391.13L342.9,391.42L343.9,391.72L344.9,392.02L345.9,392.31L346.9,392.61L347.9,392.91L348.9,393.21L349.9,393.51L350.9,393.81L351.9,394.11L352.9,394.41L353.9,394.71L354.9,395.01L355.9,395.31L356.9,395.61L357.9,395.91L358.9,396.21L359.9,396.51L360.9,396.81L361.9,397.11L362.9,397.41L363.9,397.71L364.9,398.01L365.9,398.31L366.9,398.61L367.9,398.91L368.9,399.2L369.9,399.5L370.9,399.8L371.9,400.1L372.9,400.39L373.9,400.69L374.9,400.98L375.9,401.28L376.9,401.57L377.9,401.87L378.9,402.16L379.9,402.45L380.9,402.74L381.9,403.03L382.9,403.32L383.9,403.61L384.9,403.9L385.9,404.19L386.9,404.47L387.9,404.76L388.9,405.04L389.9,405.32L390.9,405.61L391.9,405.89L392.9,406.17L393.9,406.45L394.9,406.72L395.9,407L396.9,407.27L397.9,407.55L398.9,407.82L399.9,408.09L400.9,408.36L401.9,408.63L402.9,408.9L403.9,409.16L404.9,409.43L405.9,409.69L406.9,409.95L407.9,410.21L408.9,410.47L409.9,410.73L410.9,410.98L411.9,411.24L412.9,411.49L413.9,411.74L414.9,411.99L415.9,412.24L416.9,412.48L417.9,412.72L418.9,412.97L419.9,413.21L420.9,413.45L421.9,413.68L422.9,413.92L423.9,414.15L424.9,414.38L425.9,414.61L426.9,414.84L427.9,415.06L428.9,415.29L429.9,415.51L430.9,415.73L431.9,415.95L432.9,416.16L433.9,416.37L434.9,416.59L435.9,416.79L436.9,417L437.9,417.21L438.9,417.41L439.9,417.61L440.9,417.81L441.9,418L442.9,418.2L443.9,418.39L444.9,418.58L445.9,418.76L446.9,418.95L447.9,419.13L448.9,419.31L449.9,419.49L450.9,419.66L451.9,419.83L452.9,420L453.9,420.17L454.9,420.34L455.9,420.5L456.9,420.66L457.9,420.81L458.9,420.97L459.9,421.12L460.9,421.27L461.9,421.42L462.9,421.56L463.9,421.7L464.9,421.84L465.9,421.97L466.9,422.11L467.9,422.24L468.9,422.36L469.9,422.49L470.9,422.61L471.9,422.73L472.9,422.84L473.9,422.96L474.9,423.07L475.9,423.17L476.9,423.28L477.9,423.38L478.9,423.47L479.9,423.57L480.9,423.66L481.9,423.75L482.9,423.83L483.9,423.92L484.9,423.99L485.9,424.07L486.9,424.14L487.9,424.21L488.9,424.28L489.9,424.34L490.9,424.4L491.9,424.46L492.9,424.51L493.9,424.56L494.9,424.6L495.9,424.65L496.9,424.69L497.9,424.72L498.9,424.75L499.9,424.78L500.9,424.81L501.9,424.83L502.9,424.85L503.9,424.86L504.9,424.87L505.9,424.88L506.9,424.88L507.9,424.88L508.9,424.88L509.2,424.88" fill="none" stroke="#000" stroke-width="1.6" stroke-linecap="butt" stroke-linejoin="round"/><circle cx="67.6" cy="381.1" r="3.05" fill="none" stroke="#000" stroke-width="1.4"/><circle cx="84.2" cy="381.1" r="3.05" fill="none" stroke="#000" stroke-width="1.4"/><circle cx="111.2" cy="381.1" r="3.05" fill="none" stroke="#000" stroke-width="1.4"/><circle cx="139.6" cy="381.1" r="3.05" fill="none" stroke="#000" stroke-width="1.4"/><circle cx="164.5" cy="381.8" r="3.05" fill="none" stroke="#000" stroke-width="1.4"/><circle cx="177.3" cy="382" r="3.05" fill="none" stroke="#000" stroke-width="1.4"/><circle cx="192.6" cy="382.9" r="3.05" fill="none" stroke="#000" stroke-width="1.4"/><circle cx="209.2" cy="383.8" r="3.05" fill="none" stroke="#000" stroke-width="1.4"/><circle cx="229.3" cy="386.2" r="3.05" fill="none" stroke="#000" stroke-width="1.4"/><circle cx="251.2" cy="389.2" r="3.05" fill="none" stroke="#000" stroke-width="1.4"/><circle cx="271.5" cy="392.4" r="3.05" fill="none" stroke="#000" stroke-width="1.4"/><circle cx="286.7" cy="395.6" r="3.05" fill="none" stroke="#000" stroke-width="1.4"/><circle cx="302.4" cy="398.5" r="3.05" fill="none" stroke="#000" stroke-width="1.4"/><circle cx="325.5" cy="404" r="3.05" fill="none" stroke="#000" stroke-width="1.4"/><circle cx="347.6" cy="410.5" r="3.05" fill="none" stroke="#000" stroke-width="1.4"/><circle cx="370" cy="416.3" r="3.05" fill="none" stroke="#000" stroke-width="1.4"/><circle cx="390.2" cy="420.9" r="3.05" fill="none" stroke="#000" stroke-width="1.4"/><circle cx="415.8" cy="427.8" r="3.05" fill="none" stroke="#000" stroke-width="1.4"/><circle cx="437.4" cy="432.1" r="3.05" fill="none" stroke="#000" stroke-width="1.4"/><circle cx="457.3" cy="435.6" r="3.05" fill="none" stroke="#000" stroke-width="1.4"/><circle cx="474.9" cy="437.7" r="3.05" fill="none" stroke="#000" stroke-width="1.4"/><circle cx="493.2" cy="438.9" r="3.05" fill="none" stroke="#000" stroke-width="1.4"/><circle cx="504.3" cy="438.9" r="3.05" fill="none" stroke="#000" stroke-width="1.4"/><path d="M63.9,423.46L64.9,423.5L65.9,423.54L66.9,423.58L67.9,423.61L68.9,423.64L69.9,423.67L70.9,423.7L71.9,423.73L72.9,423.76L73.9,423.79L74.9,423.81L75.9,423.83L76.9,423.85L77.9,423.87L78.9,423.89L79.9,423.91L80.9,423.93L81.9,423.94L82.9,423.95L83.9,423.97L84.9,423.98L85.9,423.99L86.9,424L87.9,424L88.9,424.01L89.9,424.02L90.9,424.02L91.9,424.02L92.9,424.02L93.9,424.03L94.9,424.02L95.9,424.02L96.9,424.02L97.9,424.02L98.9,424.01L99.9,424.01L100.9,424L101.9,424L102.9,423.99L103.9,423.98L104.9,423.97L105.9,423.96L106.9,423.95L107.9,423.94L108.9,423.93L109.9,423.91L110.9,423.9L111.9,423.88L112.9,423.87L113.9,423.85L114.9,423.84L115.9,423.82L116.9,423.8L117.9,423.78L118.9,423.76L119.9,423.74L120.9,423.72L121.9,423.7L122.9,423.68L123.9,423.66L124.9,423.64L125.9,423.61L126.9,423.59L127.9,423.57L128.9,423.54L129.9,423.52L130.9,423.49L131.9,423.47L132.9,423.44L133.9,423.42L134.9,423.39L135.9,423.37L136.9,423.34L137.9,423.32L138.9,423.29L139.9,423.26L140.9,423.24L141.9,423.21L142.9,423.18L143.9,423.15L144.9,423.13L145.9,423.1L146.9,423.07L147.9,423.04L148.9,423.02L149.9,422.99L150.9,422.96L151.9,422.94L152.9,422.91L153.9,422.88L154.9,422.85L155.9,422.83L156.9,422.8L157.9,422.77L158.9,422.75L159.9,422.72L160.9,422.7L161.9,422.67L162.9,422.65L163.9,422.62L164.9,422.6L165.9,422.57L166.9,422.55L167.9,422.52L168.9,422.5L169.9,422.48L170.9,422.46L171.9,422.43L172.9,422.41L173.9,422.39L174.9,422.37L175.9,422.35L176.9,422.33L177.9,422.31L178.9,422.29L179.9,422.28L180.9,422.26L181.9,422.24L182.9,422.23L183.9,422.21L184.9,422.2L185.9,422.18L186.9,422.17L187.9,422.16L188.9,422.15L189.9,422.14L190.9,422.13L191.9,422.12L192.9,422.11L193.9,422.1L194.9,422.1L195.9,422.09L196.9,422.09L197.9,422.08L198.9,422.08L199.9,422.08L200.9,422.08L201.9,422.08L202.9,422.08L203.9,422.08L204.9,422.09L205.9,422.09L206.9,422.1L207.9,422.1L208.9,422.11L209.9,422.12L210.9,422.13L211.9,422.14L212.9,422.16L213.9,422.17L214.9,422.19L215.9,422.2L216.9,422.22L217.9,422.24L218.9,422.26L219.9,422.28L220.9,422.31L221.9,422.33L222.9,422.36L223.9,422.38L224.9,422.41L225.9,422.44L226.9,422.48L227.9,422.51L228.9,422.55L229.9,422.58L230.9,422.62L231.9,422.66L232.9,422.7L233.9,422.75L234.9,422.79L235.9,422.84L236.9,422.88L237.9,422.93L238.9,422.98L239.9,423.04L240.9,423.09L241.9,423.15L242.9,423.2L243.9,423.26L244.9,423.32L245.9,423.38L246.9,423.45L247.9,423.51L248.9,423.58L249.9,423.64L250.9,423.71L251.9,423.78L252.9,423.85L253.9,423.93L254.9,424L255.9,424.08L256.9,424.15L257.9,424.23L258.9,424.31L259.9,424.39L260.9,424.48L261.9,424.56L262.9,424.65L263.9,424.73L264.9,424.82L265.9,424.91L266.9,425L267.9,425.09L268.9,425.19L269.9,425.28L270.9,425.38L271.9,425.48L272.9,425.57L273.9,425.67L274.9,425.78L275.9,425.88L276.9,425.98L277.9,426.09L278.9,426.19L279.9,426.3L280.9,426.41L281.9,426.52L282.9,426.63L283.9,426.74L284.9,426.86L285.9,426.97L286.9,427.09L287.9,427.21L288.9,427.33L289.9,427.45L290.9,427.57L291.9,427.69L292.9,427.81L293.9,427.94L294.9,428.06L295.9,428.19L296.9,428.32L297.9,428.45L298.9,428.58L299.9,428.71L300.9,428.84L301.9,428.97L302.9,429.11L303.9,429.24L304.9,429.38L305.9,429.52L306.9,429.66L307.9,429.8L308.9,429.94L309.9,430.08L310.9,430.22L311.9,430.37L312.9,430.51L313.9,430.66L314.9,430.81L315.9,430.96L316.9,431.11L317.9,431.26L318.9,431.41L319.9,431.56L320.9,431.71L321.9,431.87L322.9,432.02L323.9,432.18L324.9,432.34L325.9,432.49L326.9,432.65L327.9,432.81L328.9,432.97L329.9,433.13L330.9,433.3L331.9,433.46L332.9,433.63L333.9,433.79L334.9,433.96L335.9,434.12L336.9,434.29L337.9,434.46L338.9,434.63L339.9,434.8L340.9,434.97L341.9,435.14L342.9,435.31L343.9,435.48L344.9,435.65L345.9,435.83L346.9,436L347.9,436.18L348.9,436.35L349.9,436.53L350.9,436.7L351.9,436.88L352.9,437.06L353.9,437.24L354.9,437.41L355.9,437.59L356.9,437.77L357.9,437.95L358.9,438.13L359.9,438.31L360.9,438.49L361.9,438.67L362.9,438.85L363.9,439.04L364.9,439.22L365.9,439.4L366.9,439.58L367.9,439.76L368.9,439.95L369.9,440.13L370.9,440.31L371.9,440.49L372.9,440.68L373.9,440.86L374.9,441.05L375.9,441.23L376.9,441.41L377.9,441.6L378.9,441.78L379.9,441.96L380.9,442.15L381.9,442.33L382.9,442.51L383.9,442.7L384.9,442.88L385.9,443.06L386.9,443.25L387.9,443.43L388.9,443.61L389.9,443.8L390.9,443.98L391.9,444.16L392.9,444.34L393.9,444.53L394.9,444.71L395.9,444.89L396.9,445.07L397.9,445.25L398.9,445.43L399.9,445.61L400.9,445.79L401.9,445.97L402.9,446.14L403.9,446.32L404.9,446.5L405.9,446.67L406.9,446.85L407.9,447.02L408.9,447.2L409.9,447.37L410.9,447.54L411.9,447.71L412.9,447.88L413.9,448.05L414.9,448.22L415.9,448.38L416.9,448.55L417.9,448.71L418.9,448.88L419.9,449.04L420.9,449.2L421.9,449.36L422.9,449.51L423.9,449.67L424.9,449.83L425.9,449.98L426.9,450.13L427.9,450.28L428.9,450.43L429.9,450.58L430.9,450.73L431.9,450.87L432.9,451.01L433.9,451.15L434.9,451.29L435.9,451.43L436.9,451.56L437.9,451.7L438.9,451.83L439.9,451.96L440.9,452.09L441.9,452.21L442.9,452.34L443.9,452.46L444.9,452.58L445.9,452.7L446.9,452.82L447.9,452.94L448.9,453.05L449.9,453.16L450.9,453.27L451.9,453.38L452.9,453.49L453.9,453.6L454.9,453.7L455.9,453.81L456.9,453.91L457.9,454.01L458.9,454.11L459.9,454.21L460.9,454.31L461.9,454.4L462.9,454.5L463.9,454.59L464.9,454.68L465.9,454.77L466.9,454.86L467.9,454.95L468.9,455.04L469.9,455.12L470.9,455.21L471.9,455.29L472.9,455.38L473.9,455.46L474.9,455.54L475.9,455.62L476.9,455.7L477.9,455.78L478.9,455.85L479.9,455.93L480.9,456.01L481.9,456.08L482.9,456.16L483.9,456.23L484.9,456.3L485.9,456.37L486.9,456.45L487.9,456.52L488.9,456.59L489.9,456.65L490.9,456.72L491.9,456.79L492.9,456.86L493.9,456.93L494.9,456.99L495.9,457.06L496.9,457.12L497.9,457.19L498.9,457.25L499.9,457.32L500.9,457.38L501.9,457.45L502.9,457.51L503.9,457.57L504.9,457.64L505.9,457.7L506.9,457.76L507.9,457.82L508.9,457.89L509.2,457.9" fill="none" stroke="#d0102a" stroke-width="1.6" stroke-dasharray="1.2 4.65" stroke-linecap="butt" stroke-linejoin="round"/><rect x="70" y="433.4" width="5.4" height="5.4" fill="none" stroke="#ff0000" stroke-width="1.45"/><rect x="96.5" y="433.4" width="5.4" height="5.4" fill="none" stroke="#ff0000" stroke-width="1.45"/><rect x="123.1" y="432.7" width="5.4" height="5.4" fill="none" stroke="#ff0000" stroke-width="1.45"/><rect x="147.3" y="432.7" width="5.4" height="5.4" fill="none" stroke="#ff0000" stroke-width="1.45"/><rect x="173.8" y="433.1" width="5.4" height="5.4" fill="none" stroke="#ff0000" stroke-width="1.45"/><rect x="198" y="433.5" width="5.4" height="5.4" fill="none" stroke="#ff0000" stroke-width="1.45"/><rect x="222.7" y="434.2" width="5.4" height="5.4" fill="none" stroke="#ff0000" stroke-width="1.45"/><rect x="245.1" y="436.1" width="5.4" height="5.4" fill="none" stroke="#ff0000" stroke-width="1.45"/><rect x="269.3" y="438.4" width="5.4" height="5.4" fill="none" stroke="#ff0000" stroke-width="1.45"/><rect x="286.3" y="441" width="5.4" height="5.4" fill="none" stroke="#ff0000" stroke-width="1.45"/><rect x="306.1" y="443.5" width="5.4" height="5.4" fill="none" stroke="#ff0000" stroke-width="1.45"/><rect x="328.5" y="447" width="5.4" height="5.4" fill="none" stroke="#ff0000" stroke-width="1.45"/><rect x="353.5" y="451.1" width="5.4" height="5.4" fill="none" stroke="#ff0000" stroke-width="1.45"/><rect x="370.8" y="454.1" width="5.4" height="5.4" fill="none" stroke="#ff0000" stroke-width="1.45"/><rect x="398.3" y="458.9" width="5.4" height="5.4" fill="none" stroke="#ff0000" stroke-width="1.45"/><rect x="422" y="462.2" width="5.4" height="5.4" fill="none" stroke="#ff0000" stroke-width="1.45"/><rect x="443.1" y="465.7" width="5.4" height="5.4" fill="none" stroke="#ff0000" stroke-width="1.45"/><rect x="465.2" y="467.4" width="5.4" height="5.4" fill="none" stroke="#ff0000" stroke-width="1.45"/><rect x="489.4" y="468.6" width="5.4" height="5.4" fill="none" stroke="#ff0000" stroke-width="1.45"/><rect x="503" y="468.6" width="5.4" height="5.4" fill="none" stroke="#ff0000" stroke-width="1.45"/><path d="M63.9,433.84L64.9,433.8L65.9,433.75L66.9,433.7L67.9,433.65L68.9,433.6L69.9,433.55L70.9,433.5L71.9,433.46L72.9,433.41L73.9,433.36L74.9,433.31L75.9,433.27L76.9,433.22L77.9,433.18L78.9,433.13L79.9,433.08L80.9,433.04L81.9,432.99L82.9,432.95L83.9,432.9L84.9,432.86L85.9,432.81L86.9,432.77L87.9,432.73L88.9,432.68L89.9,432.64L90.9,432.6L91.9,432.55L92.9,432.51L93.9,432.47L94.9,432.43L95.9,432.39L96.9,432.35L97.9,432.31L98.9,432.27L99.9,432.23L100.9,432.19L101.9,432.15L102.9,432.11L103.9,432.07L104.9,432.03L105.9,431.99L106.9,431.95L107.9,431.91L108.9,431.88L109.9,431.84L110.9,431.8L111.9,431.77L112.9,431.73L113.9,431.69L114.9,431.66L115.9,431.62L116.9,431.59L117.9,431.56L118.9,431.52L119.9,431.49L120.9,431.45L121.9,431.42L122.9,431.39L123.9,431.36L124.9,431.32L125.9,431.29L126.9,431.26L127.9,431.23L128.9,431.2L129.9,431.17L130.9,431.14L131.9,431.11L132.9,431.08L133.9,431.05L134.9,431.02L135.9,431L136.9,430.97L137.9,430.94L138.9,430.91L139.9,430.89L140.9,430.86L141.9,430.84L142.9,430.81L143.9,430.79L144.9,430.76L145.9,430.74L146.9,430.71L147.9,430.69L148.9,430.67L149.9,430.64L150.9,430.62L151.9,430.6L152.9,430.58L153.9,430.56L154.9,430.54L155.9,430.52L156.9,430.5L157.9,430.48L158.9,430.46L159.9,430.44L160.9,430.43L161.9,430.41L162.9,430.39L163.9,430.37L164.9,430.36L165.9,430.34L166.9,430.33L167.9,430.31L168.9,430.3L169.9,430.28L170.9,430.27L171.9,430.26L172.9,430.25L173.9,430.23L174.9,430.22L175.9,430.21L176.9,430.2L177.9,430.19L178.9,430.18L179.9,430.17L180.9,430.16L181.9,430.15L182.9,430.15L183.9,430.14L184.9,430.13L185.9,430.13L186.9,430.12L187.9,430.11L188.9,430.11L189.9,430.11L190.9,430.1L191.9,430.1L192.9,430.1L193.9,430.09L194.9,430.09L195.9,430.09L196.9,430.09L197.9,430.09L198.9,430.09L199.9,430.09L200.9,430.09L201.9,430.09L202.9,430.09L203.9,430.1L204.9,430.1L205.9,430.1L206.9,430.11L207.9,430.11L208.9,430.12L209.9,430.13L210.9,430.13L211.9,430.14L212.9,430.15L213.9,430.15L214.9,430.16L215.9,430.17L216.9,430.18L217.9,430.19L218.9,430.2L219.9,430.22L220.9,430.23L221.9,430.24L222.9,430.25L223.9,430.27L224.9,430.28L225.9,430.3L226.9,430.31L227.9,430.33L228.9,430.34L229.9,430.36L230.9,430.38L231.9,430.4L232.9,430.42L233.9,430.44L234.9,430.46L235.9,430.48L236.9,430.5L237.9,430.52L238.9,430.54L239.9,430.57L240.9,430.59L241.9,430.61L242.9,430.64L243.9,430.66L244.9,430.69L245.9,430.72L246.9,430.74L247.9,430.77L248.9,430.8L249.9,430.83L250.9,430.86L251.9,430.89L252.9,430.92L253.9,430.95L254.9,430.99L255.9,431.02L256.9,431.05L257.9,431.09L258.9,431.12L259.9,431.16L260.9,431.19L261.9,431.23L262.9,431.27L263.9,431.31L264.9,431.35L265.9,431.39L266.9,431.43L267.9,431.47L268.9,431.51L269.9,431.55L270.9,431.59L271.9,431.64L272.9,431.68L273.9,431.73L274.9,431.77L275.9,431.82L276.9,431.87L277.9,431.91L278.9,431.96L279.9,432.01L280.9,432.06L281.9,432.11L282.9,432.16L283.9,432.21L284.9,432.27L285.9,432.32L286.9,432.37L287.9,432.43L288.9,432.48L289.9,432.54L290.9,432.6L291.9,432.65L292.9,432.71L293.9,432.77L294.9,432.83L295.9,432.89L296.9,432.95L297.9,433.01L298.9,433.07L299.9,433.13L300.9,433.2L301.9,433.26L302.9,433.33L303.9,433.39L304.9,433.46L305.9,433.52L306.9,433.59L307.9,433.65L308.9,433.72L309.9,433.79L310.9,433.86L311.9,433.93L312.9,434L313.9,434.07L314.9,434.14L315.9,434.21L316.9,434.28L317.9,434.35L318.9,434.43L319.9,434.5L320.9,434.57L321.9,434.65L322.9,434.72L323.9,434.8L324.9,434.87L325.9,434.95L326.9,435.02L327.9,435.1L328.9,435.18L329.9,435.26L330.9,435.33L331.9,435.41L332.9,435.49L333.9,435.57L334.9,435.65L335.9,435.73L336.9,435.81L337.9,435.89L338.9,435.97L339.9,436.05L340.9,436.13L341.9,436.21L342.9,436.3L343.9,436.38L344.9,436.46L345.9,436.54L346.9,436.63L347.9,436.71L348.9,436.79L349.9,436.88L350.9,436.96L351.9,437.05L352.9,437.13L353.9,437.22L354.9,437.3L355.9,437.39L356.9,437.47L357.9,437.56L358.9,437.64L359.9,437.73L360.9,437.82L361.9,437.9L362.9,437.99L363.9,438.08L364.9,438.16L365.9,438.25L366.9,438.34L367.9,438.43L368.9,438.51L369.9,438.6L370.9,438.69L371.9,438.78L372.9,438.87L373.9,438.95L374.9,439.04L375.9,439.13L376.9,439.22L377.9,439.31L378.9,439.4L379.9,439.48L380.9,439.57L381.9,439.66L382.9,439.75L383.9,439.84L384.9,439.93L385.9,440.02L386.9,440.1L387.9,440.19L388.9,440.28L389.9,440.37L390.9,440.46L391.9,440.55L392.9,440.64L393.9,440.72L394.9,440.81L395.9,440.9L396.9,440.99L397.9,441.08L398.9,441.17L399.9,441.25L400.9,441.34L401.9,441.43L402.9,441.52L403.9,441.61L404.9,441.69L405.9,441.78L406.9,441.87L407.9,441.96L408.9,442.04L409.9,442.13L410.9,442.22L411.9,442.3L412.9,442.39L413.9,442.47L414.9,442.56L415.9,442.65L416.9,442.73L417.9,442.82L418.9,442.9L419.9,442.99L420.9,443.07L421.9,443.16L422.9,443.24L423.9,443.32L424.9,443.41L425.9,443.49L426.9,443.57L427.9,443.66L428.9,443.74L429.9,443.82L430.9,443.9L431.9,443.99L432.9,444.07L433.9,444.15L434.9,444.23L435.9,444.31L436.9,444.39L437.9,444.47L438.9,444.55L439.9,444.63L440.9,444.7L441.9,444.78L442.9,444.86L443.9,444.94L444.9,445.01L445.9,445.09L446.9,445.17L447.9,445.24L448.9,445.32L449.9,445.39L450.9,445.47L451.9,445.54L452.9,445.61L453.9,445.69L454.9,445.76L455.9,445.83L456.9,445.9L457.9,445.97L458.9,446.04L459.9,446.11L460.9,446.18L461.9,446.25L462.9,446.32L463.9,446.39L464.9,446.46L465.9,446.52L466.9,446.59L467.9,446.65L468.9,446.72L469.9,446.78L470.9,446.85L471.9,446.91L472.9,446.97L473.9,447.04L474.9,447.1L475.9,447.16L476.9,447.22L477.9,447.28L478.9,447.34L479.9,447.4L480.9,447.45L481.9,447.51L482.9,447.57L483.9,447.62L484.9,447.68L485.9,447.73L486.9,447.79L487.9,447.84L488.9,447.89L489.9,447.94L490.9,447.99L491.9,448.04L492.9,448.09L493.9,448.14L494.9,448.19L495.9,448.24L496.9,448.28L497.9,448.33L498.9,448.37L499.9,448.42L500.9,448.46L501.9,448.5L502.9,448.54L503.9,448.58L504.9,448.62L505.9,448.66L506.9,448.7L507.9,448.74L508.9,448.78L509.2,448.79" fill="none" stroke="#008b00" stroke-width="1.6" stroke-dasharray="9.8 4.6" stroke-linecap="butt" stroke-linejoin="round"/><path d="M68.1,437L71.1,442.2L65.1,442.2Z" fill="none" stroke="#008b00" stroke-width="1.45" stroke-linejoin="miter"/><path d="M93,437L96,442.2L90,442.2Z" fill="none" stroke="#008b00" stroke-width="1.45" stroke-linejoin="miter"/><path d="M126.9,437.5L129.9,442.7L123.9,442.7Z" fill="none" stroke="#008b00" stroke-width="1.45" stroke-linejoin="miter"/><path d="M154.2,437L157.2,442.2L151.2,442.2Z" fill="none" stroke="#008b00" stroke-width="1.45" stroke-linejoin="miter"/><path d="M178,436.5L181,441.7L175,441.7Z" fill="none" stroke="#008b00" stroke-width="1.45" stroke-linejoin="miter"/><path d="M205.8,436.7L208.8,441.9L202.8,441.9Z" fill="none" stroke="#008b00" stroke-width="1.45" stroke-linejoin="miter"/><path d="M230.5,436.7L233.5,441.9L227.5,441.9Z" fill="none" stroke="#008b00" stroke-width="1.45" stroke-linejoin="miter"/><path d="M257,439L260,444.2L254,444.2Z" fill="none" stroke="#008b00" stroke-width="1.45" stroke-linejoin="miter"/><path d="M285.2,439.7L288.2,444.9L282.2,444.9Z" fill="none" stroke="#008b00" stroke-width="1.45" stroke-linejoin="miter"/><path d="M307.2,441.4L310.2,446.6L304.2,446.6Z" fill="none" stroke="#008b00" stroke-width="1.45" stroke-linejoin="miter"/><path d="M332.6,445.1L335.6,450.3L329.6,450.3Z" fill="none" stroke="#008b00" stroke-width="1.45" stroke-linejoin="miter"/><path d="M358.5,447.4L361.5,452.6L355.5,452.6Z" fill="none" stroke="#008b00" stroke-width="1.45" stroke-linejoin="miter"/><path d="M383.2,450.2L386.2,455.4L380.2,455.4Z" fill="none" stroke="#008b00" stroke-width="1.45" stroke-linejoin="miter"/><path d="M400.6,451.2L403.6,456.4L397.6,456.4Z" fill="none" stroke="#008b00" stroke-width="1.45" stroke-linejoin="miter"/><path d="M426.4,454.7L429.4,459.9L423.4,459.9Z" fill="none" stroke="#008b00" stroke-width="1.45" stroke-linejoin="miter"/><path d="M457.3,457L460.3,462.2L454.3,462.2Z" fill="none" stroke="#008b00" stroke-width="1.45" stroke-linejoin="miter"/><path d="M484.6,459.4L487.6,464.6L481.6,464.6Z" fill="none" stroke="#008b00" stroke-width="1.45" stroke-linejoin="miter"/><path d="M507.3,459.4L510.3,464.6L504.3,464.6Z" fill="none" stroke="#008b00" stroke-width="1.45" stroke-linejoin="miter"/><path d="M63.9,415.54L64.9,415.51L65.9,415.49L66.9,415.46L67.9,415.43L68.9,415.41L69.9,415.38L70.9,415.35L71.9,415.33L72.9,415.3L73.9,415.28L74.9,415.25L75.9,415.22L76.9,415.2L77.9,415.17L78.9,415.15L79.9,415.12L80.9,415.1L81.9,415.07L82.9,415.05L83.9,415.02L84.9,415L85.9,414.97L86.9,414.95L87.9,414.92L88.9,414.9L89.9,414.87L90.9,414.85L91.9,414.82L92.9,414.8L93.9,414.78L94.9,414.75L95.9,414.73L96.9,414.71L97.9,414.68L98.9,414.66L99.9,414.64L100.9,414.61L101.9,414.59L102.9,414.57L103.9,414.54L104.9,414.52L105.9,414.5L106.9,414.48L107.9,414.45L108.9,414.43L109.9,414.41L110.9,414.39L111.9,414.37L112.9,414.34L113.9,414.32L114.9,414.3L115.9,414.28L116.9,414.26L117.9,414.24L118.9,414.22L119.9,414.19L120.9,414.17L121.9,414.15L122.9,414.13L123.9,414.11L124.9,414.09L125.9,414.07L126.9,414.05L127.9,414.03L128.9,414.01L129.9,413.99L130.9,413.97L131.9,413.95L132.9,413.93L133.9,413.91L134.9,413.9L135.9,413.88L136.9,413.86L137.9,413.84L138.9,413.82L139.9,413.8L140.9,413.78L141.9,413.77L142.9,413.75L143.9,413.73L144.9,413.71L145.9,413.69L146.9,413.68L147.9,413.66L148.9,413.64L149.9,413.63L150.9,413.61L151.9,413.59L152.9,413.57L153.9,413.56L154.9,413.54L155.9,413.53L156.9,413.51L157.9,413.49L158.9,413.48L159.9,413.46L160.9,413.45L161.9,413.43L162.9,413.42L163.9,413.4L164.9,413.39L165.9,413.37L166.9,413.36L167.9,413.34L168.9,413.33L169.9,413.31L170.9,413.3L171.9,413.29L172.9,413.27L173.9,413.26L174.9,413.25L175.9,413.23L176.9,413.22L177.9,413.21L178.9,413.19L179.9,413.18L180.9,413.17L181.9,413.16L182.9,413.14L183.9,413.13L184.9,413.12L185.9,413.11L186.9,413.1L187.9,413.09L188.9,413.07L189.9,413.06L190.9,413.05L191.9,413.04L192.9,413.03L193.9,413.02L194.9,413.01L195.9,413L196.9,412.99L197.9,412.98L198.9,412.97L199.9,412.96L200.9,412.95L201.9,412.94L202.9,412.93L203.9,412.92L204.9,412.92L205.9,412.91L206.9,412.9L207.9,412.89L208.9,412.88L209.9,412.88L210.9,412.87L211.9,412.86L212.9,412.85L213.9,412.85L214.9,412.84L215.9,412.83L216.9,412.83L217.9,412.82L218.9,412.81L219.9,412.81L220.9,412.8L221.9,412.8L222.9,412.79L223.9,412.78L224.9,412.78L225.9,412.77L226.9,412.77L227.9,412.77L228.9,412.76L229.9,412.76L230.9,412.75L231.9,412.75L232.9,412.74L233.9,412.74L234.9,412.74L235.9,412.73L236.9,412.73L237.9,412.73L238.9,412.73L239.9,412.72L240.9,412.72L241.9,412.72L242.9,412.72L243.9,412.72L244.9,412.71L245.9,412.71L246.9,412.71L247.9,412.71L248.9,412.71L249.9,412.71L250.9,412.71L251.9,412.71L252.9,412.71L253.9,412.71L254.9,412.71L255.9,412.71L256.9,412.71L257.9,412.71L258.9,412.71L259.9,412.72L260.9,412.72L261.9,412.72L262.9,412.72L263.9,412.72L264.9,412.73L265.9,412.73L266.9,412.73L267.9,412.73L268.9,412.74L269.9,412.74L270.9,412.74L271.9,412.75L272.9,412.75L273.9,412.76L274.9,412.76L275.9,412.77L276.9,412.77L277.9,412.78L278.9,412.78L279.9,412.79L280.9,412.79L281.9,412.8L282.9,412.8L283.9,412.81L284.9,412.82L285.9,412.82L286.9,412.83L287.9,412.84L288.9,412.85L289.9,412.85L290.9,412.86L291.9,412.87L292.9,412.88L293.9,412.89L294.9,412.89L295.9,412.9L296.9,412.91L297.9,412.92L298.9,412.93L299.9,412.94L300.9,412.95L301.9,412.96L302.9,412.97L303.9,412.98L304.9,412.99L305.9,413L306.9,413.02L307.9,413.03L308.9,413.04L309.9,413.05L310.9,413.06L311.9,413.08L312.9,413.09L313.9,413.1L314.9,413.12L315.9,413.13L316.9,413.14L317.9,413.16L318.9,413.17L319.9,413.18L320.9,413.2L321.9,413.21L322.9,413.23L323.9,413.24L324.9,413.26L325.9,413.27L326.9,413.29L327.9,413.31L328.9,413.32L329.9,413.34L330.9,413.36L331.9,413.37L332.9,413.39L333.9,413.41L334.9,413.43L335.9,413.44L336.9,413.46L337.9,413.48L338.9,413.5L339.9,413.52L340.9,413.54L341.9,413.56L342.9,413.58L343.9,413.6L344.9,413.62L345.9,413.64L346.9,413.66L347.9,413.68L348.9,413.7L349.9,413.72L350.9,413.74L351.9,413.77L352.9,413.79L353.9,413.81L354.9,413.83L355.9,413.85L356.9,413.88L357.9,413.9L358.9,413.92L359.9,413.95L360.9,413.97L361.9,413.99L362.9,414.02L363.9,414.04L364.9,414.06L365.9,414.09L366.9,414.11L367.9,414.14L368.9,414.16L369.9,414.19L370.9,414.21L371.9,414.24L372.9,414.26L373.9,414.29L374.9,414.31L375.9,414.34L376.9,414.36L377.9,414.39L378.9,414.41L379.9,414.44L380.9,414.46L381.9,414.49L382.9,414.52L383.9,414.54L384.9,414.57L385.9,414.6L386.9,414.62L387.9,414.65L388.9,414.67L389.9,414.7L390.9,414.73L391.9,414.75L392.9,414.78L393.9,414.81L394.9,414.83L395.9,414.86L396.9,414.89L397.9,414.92L398.9,414.94L399.9,414.97L400.9,415L401.9,415.02L402.9,415.05L403.9,415.08L404.9,415.1L405.9,415.13L406.9,415.16L407.9,415.19L408.9,415.21L409.9,415.24L410.9,415.27L411.9,415.29L412.9,415.32L413.9,415.35L414.9,415.37L415.9,415.4L416.9,415.43L417.9,415.45L418.9,415.48L419.9,415.51L420.9,415.53L421.9,415.56L422.9,415.59L423.9,415.61L424.9,415.64L425.9,415.67L426.9,415.69L427.9,415.72L428.9,415.74L429.9,415.77L430.9,415.8L431.9,415.82L432.9,415.85L433.9,415.87L434.9,415.9L435.9,415.92L436.9,415.95L437.9,415.97L438.9,416L439.9,416.02L440.9,416.05L441.9,416.07L442.9,416.1L443.9,416.12L444.9,416.15L445.9,416.17L446.9,416.19L447.9,416.22L448.9,416.24L449.9,416.26L450.9,416.29L451.9,416.31L452.9,416.33L453.9,416.36L454.9,416.38L455.9,416.4L456.9,416.42L457.9,416.44L458.9,416.47L459.9,416.49L460.9,416.51L461.9,416.53L462.9,416.55L463.9,416.57L464.9,416.59L465.9,416.61L466.9,416.63L467.9,416.65L468.9,416.67L469.9,416.69L470.9,416.71L471.9,416.73L472.9,416.75L473.9,416.76L474.9,416.78L475.9,416.8L476.9,416.82L477.9,416.84L478.9,416.85L479.9,416.87L480.9,416.89L481.9,416.9L482.9,416.92L483.9,416.93L484.9,416.95L485.9,416.96L486.9,416.98L487.9,416.99L488.9,417.01L489.9,417.02L490.9,417.03L491.9,417.05L492.9,417.06L493.9,417.07L494.9,417.08L495.9,417.1L496.9,417.11L497.9,417.12L498.9,417.13L499.9,417.14L500.9,417.15L501.9,417.16L502.9,417.17L503.9,417.18L504.9,417.19L505.9,417.19L506.9,417.2L507.9,417.21L508.9,417.22L509.2,417.22" fill="none" stroke="#0000ff" stroke-width="1.6" stroke-dasharray="7.3 5.3 1.2 4.3 1.2 4.4" stroke-dashoffset="-3.1" stroke-linecap="butt" stroke-linejoin="round"/><path d="M68.1,414.5L69.06,415.69L70.57,415.53L70.41,417.04L71.6,418L70.41,418.96L70.57,420.47L69.06,420.31L68.1,421.5L67.14,420.31L65.63,420.47L65.79,418.96L64.6,418L65.79,417.04L65.63,415.53L67.14,415.69Z" fill="#0000ff"/><path d="M96.2,413.7L97.16,414.89L98.67,414.73L98.51,416.24L99.7,417.2L98.51,418.16L98.67,419.67L97.16,419.51L96.2,420.7L95.24,419.51L93.73,419.67L93.89,418.16L92.7,417.2L93.89,416.24L93.73,414.73L95.24,414.89Z" fill="#0000ff"/><path d="M139.2,413.7L140.16,414.89L141.67,414.73L141.51,416.24L142.7,417.2L141.51,418.16L141.67,419.67L140.16,419.51L139.2,420.7L138.24,419.51L136.73,419.67L136.89,418.16L135.7,417.2L136.89,416.24L136.73,414.73L138.24,414.89Z" fill="#0000ff"/><path d="M178.5,413.9L179.46,415.09L180.97,414.93L180.81,416.44L182,417.4L180.81,418.36L180.97,419.87L179.46,419.71L178.5,420.9L177.54,419.71L176.03,419.87L176.19,418.36L175,417.4L176.19,416.44L176.03,414.93L177.54,415.09Z" fill="#0000ff"/><path d="M209.5,413.3L210.46,414.49L211.97,414.33L211.81,415.84L213,416.8L211.81,417.76L211.97,419.27L210.46,419.11L209.5,420.3L208.54,419.11L207.03,419.27L207.19,417.76L206,416.8L207.19,415.84L207.03,414.33L208.54,414.49Z" fill="#0000ff"/><path d="M245.7,413.3L246.66,414.49L248.17,414.33L248.01,415.84L249.2,416.8L248.01,417.76L248.17,419.27L246.66,419.11L245.7,420.3L244.74,419.11L243.23,419.27L243.39,417.76L242.2,416.8L243.39,415.84L243.23,414.33L244.74,414.49Z" fill="#0000ff"/><path d="M278.7,414.2L279.66,415.39L281.17,415.23L281.01,416.74L282.2,417.7L281.01,418.66L281.17,420.17L279.66,420.01L278.7,421.2L277.74,420.01L276.23,420.17L276.39,418.66L275.2,417.7L276.39,416.74L276.23,415.23L277.74,415.39Z" fill="#0000ff"/><path d="M287,415L287.96,416.19L289.47,416.03L289.31,417.54L290.5,418.5L289.31,419.46L289.47,420.97L287.96,420.81L287,422L286.04,420.81L284.53,420.97L284.69,419.46L283.5,418.5L284.69,417.54L284.53,416.03L286.04,416.19Z" fill="#0000ff"/><path d="M313.9,416.2L314.86,417.39L316.37,417.23L316.21,418.74L317.4,419.7L316.21,420.66L316.37,422.17L314.86,422.01L313.9,423.2L312.94,422.01L311.43,422.17L311.59,420.66L310.4,419.7L311.59,418.74L311.43,417.23L312.94,417.39Z" fill="#0000ff"/><path d="M334.2,416.9L335.16,418.09L336.67,417.93L336.51,419.44L337.7,420.4L336.51,421.36L336.67,422.87L335.16,422.71L334.2,423.9L333.24,422.71L331.73,422.87L331.89,421.36L330.7,420.4L331.89,419.44L331.73,417.93L333.24,418.09Z" fill="#0000ff"/><path d="M352.7,418L353.66,419.19L355.17,419.03L355.01,420.54L356.2,421.5L355.01,422.46L355.17,423.97L353.66,423.81L352.7,425L351.74,423.81L350.23,423.97L350.39,422.46L349.2,421.5L350.39,420.54L350.23,419.03L351.74,419.19Z" fill="#0000ff"/><path d="M371.6,419.2L372.56,420.39L374.07,420.23L373.91,421.74L375.1,422.7L373.91,423.66L374.07,425.17L372.56,425.01L371.6,426.2L370.64,425.01L369.13,425.17L369.29,423.66L368.1,422.7L369.29,421.74L369.13,420.23L370.64,420.39Z" fill="#0000ff"/><path d="M399.7,420.6L400.66,421.79L402.17,421.63L402.01,423.14L403.2,424.1L402.01,425.06L402.17,426.57L400.66,426.41L399.7,427.6L398.74,426.41L397.23,426.57L397.39,425.06L396.2,424.1L397.39,423.14L397.23,421.63L398.74,421.79Z" fill="#0000ff"/><path d="M423.3,421.5L424.26,422.69L425.77,422.53L425.61,424.04L426.8,425L425.61,425.96L425.77,427.47L424.26,427.31L423.3,428.5L422.34,427.31L420.83,427.47L420.99,425.96L419.8,425L420.99,424.04L420.83,422.53L422.34,422.69Z" fill="#0000ff"/><path d="M449.1,422.7L450.06,423.89L451.57,423.73L451.41,425.24L452.6,426.2L451.41,427.16L451.57,428.67L450.06,428.51L449.1,429.7L448.14,428.51L446.63,428.67L446.79,427.16L445.6,426.2L446.79,425.24L446.63,423.73L448.14,423.89Z" fill="#0000ff"/><path d="M476.1,423.2L477.06,424.39L478.57,424.23L478.41,425.74L479.6,426.7L478.41,427.66L478.57,429.17L477.06,429.01L476.1,430.2L475.14,429.01L473.63,429.17L473.79,427.66L472.6,426.7L473.79,425.74L473.63,424.23L475.14,424.39Z" fill="#0000ff"/><path d="M504.3,423.9L505.26,425.09L506.77,424.93L506.61,426.44L507.8,427.4L506.61,428.36L506.77,429.87L505.26,429.71L504.3,430.9L503.34,429.71L501.83,429.87L501.99,428.36L500.8,427.4L501.99,426.44L501.83,424.93L503.34,425.09Z" fill="#0000ff"/>
<rect x="63.9" y="26.2" width="445.3" height="117.8" fill="none" stroke="#000" stroke-width="1.6"/><path d="M63.9,136.37h9.4M509.2,136.37h-9.4M63.9,110.95h9.4M509.2,110.95h-9.4M63.9,85.52h9.4M509.2,85.52h-9.4M63.9,60.1h9.4M509.2,60.1h-9.4M63.9,34.67h9.4M509.2,34.67h-9.4M63.9,123.66h4.7M509.2,123.66h-4.7M63.9,98.24h4.7M509.2,98.24h-4.7M63.9,72.81h4.7M509.2,72.81h-4.7M63.9,47.39h4.7M509.2,47.39h-4.7M63.9,144v-9.4M63.9,26.2v9.4M101.01,144v-9.4M101.01,26.2v9.4M138.12,144v-9.4M138.12,26.2v9.4M175.22,144v-9.4M175.22,26.2v9.4M212.33,144v-9.4M212.33,26.2v9.4M249.44,144v-9.4M249.44,26.2v9.4M286.55,144v-9.4M286.55,26.2v9.4M323.66,144v-9.4M323.66,26.2v9.4M360.77,144v-9.4M360.77,26.2v9.4M397.88,144v-9.4M397.88,26.2v9.4M434.98,144v-9.4M434.98,26.2v9.4M472.09,144v-9.4M472.09,26.2v9.4M509.2,144v-9.4M509.2,26.2v9.4M82.45,144v-4.7M82.45,26.2v4.7M119.56,144v-4.7M119.56,26.2v4.7M156.67,144v-4.7M156.67,26.2v4.7M193.78,144v-4.7M193.78,26.2v4.7M230.89,144v-4.7M230.89,26.2v4.7M268,144v-4.7M268,26.2v4.7M305.1,144v-4.7M305.1,26.2v4.7M342.21,144v-4.7M342.21,26.2v4.7M379.32,144v-4.7M379.32,26.2v4.7M416.43,144v-4.7M416.43,26.2v4.7M453.54,144v-4.7M453.54,26.2v4.7M490.65,144v-4.7M490.65,26.2v4.7" stroke="#000" stroke-width="1.5" fill="none"/><rect x="63.9" y="191.6" width="445.3" height="118.3" fill="none" stroke="#000" stroke-width="1.6"/><path d="M63.9,295.37h9.4M509.2,295.37h-9.4M63.9,274.62h9.4M509.2,274.62h-9.4M63.9,253.86h9.4M509.2,253.86h-9.4M63.9,233.11h9.4M509.2,233.11h-9.4M63.9,212.35h9.4M509.2,212.35h-9.4M63.9,191.6h9.4M509.2,191.6h-9.4M63.9,284.99h4.7M509.2,284.99h-4.7M63.9,264.24h4.7M509.2,264.24h-4.7M63.9,243.49h4.7M509.2,243.49h-4.7M63.9,222.73h4.7M509.2,222.73h-4.7M63.9,201.98h4.7M509.2,201.98h-4.7M63.9,305.75h4.7M509.2,305.75h-4.7M63.9,309.9v-9.4M63.9,191.6v9.4M138.12,309.9v-9.4M138.12,191.6v9.4M212.33,309.9v-9.4M212.33,191.6v9.4M286.55,309.9v-9.4M286.55,191.6v9.4M360.77,309.9v-9.4M360.77,191.6v9.4M434.98,309.9v-9.4M434.98,191.6v9.4M509.2,309.9v-9.4M509.2,191.6v9.4M101.01,309.9v-4.7M101.01,191.6v4.7M175.22,309.9v-4.7M175.22,191.6v4.7M249.44,309.9v-4.7M249.44,191.6v4.7M323.66,309.9v-4.7M323.66,191.6v4.7M397.88,309.9v-4.7M397.88,191.6v4.7M472.09,309.9v-4.7M472.09,191.6v4.7" stroke="#000" stroke-width="1.5" fill="none"/><rect x="63.9" y="357.3" width="445.3" height="118" fill="none" stroke="#000" stroke-width="1.6"/><path d="M63.9,357.3h9.4M509.2,357.3h-9.4M63.9,383.52h9.4M509.2,383.52h-9.4M63.9,409.74h9.4M509.2,409.74h-9.4M63.9,435.97h9.4M509.2,435.97h-9.4M63.9,462.19h9.4M509.2,462.19h-9.4M63.9,370.41h4.7M509.2,370.41h-4.7M63.9,396.63h4.7M509.2,396.63h-4.7M63.9,422.86h4.7M509.2,422.86h-4.7M63.9,449.08h4.7M509.2,449.08h-4.7M63.9,475.3v-9.4M63.9,357.3v9.4M138.12,475.3v-9.4M138.12,357.3v9.4M212.33,475.3v-9.4M212.33,357.3v9.4M286.55,475.3v-9.4M286.55,357.3v9.4M360.77,475.3v-9.4M360.77,357.3v9.4M434.98,475.3v-9.4M434.98,357.3v9.4M509.2,475.3v-9.4M509.2,357.3v9.4M101.01,475.3v-4.7M101.01,357.3v4.7M175.22,475.3v-4.7M175.22,357.3v4.7M249.44,475.3v-4.7M249.44,357.3v4.7M323.66,475.3v-4.7M323.66,357.3v4.7M397.88,475.3v-4.7M397.88,357.3v4.7M472.09,475.3v-4.7M472.09,357.3v4.7" stroke="#000" stroke-width="1.5" fill="none"/><path d="M286.9,501.9a4.2,4.45 0 1,0 0.001,0ZM286.9,502.75a2.6,3.6 0 1,1 -0.001,0Z" fill="#000" fill-rule="evenodd"/><path d="M286.9,498.6V515" stroke="#000" stroke-width="0.9"/>
<rect x="385" y="0.45" width="94.9" height="115.35" fill="#fff" stroke="#000" stroke-width="1.3"/>
<g class="g"><text x="58" y="141.47" text-anchor="end" font-size="14.1">0</text><text x="58" y="116.05" text-anchor="end" font-size="14.1">300</text><text x="58" y="90.62" text-anchor="end" font-size="14.1">600</text><text x="58" y="65.2" text-anchor="end" font-size="14.1">900</text><text x="58" y="39.77" text-anchor="end" font-size="14.1">1200</text><text x="64.2" y="160.6" text-anchor="middle" font-size="14.1">0</text><text x="101.31" y="160.6" text-anchor="middle" font-size="14.1">30</text><text x="138.42" y="160.6" text-anchor="middle" font-size="14.1">60</text><text x="175.53" y="160.6" text-anchor="middle" font-size="14.1">90</text><text x="212.63" y="160.6" text-anchor="middle" font-size="14.1">120</text><text x="249.74" y="160.6" text-anchor="middle" font-size="14.1">150</text><text x="286.85" y="160.6" text-anchor="middle" font-size="14.1">180</text><text x="323.96" y="160.6" text-anchor="middle" font-size="14.1">210</text><text x="361.07" y="160.6" text-anchor="middle" font-size="14.1">240</text><text x="398.18" y="160.6" text-anchor="middle" font-size="14.1">270</text><text x="435.28" y="160.6" text-anchor="middle" font-size="14.1">300</text><text x="472.39" y="160.6" text-anchor="middle" font-size="14.1">330</text><text x="509.5" y="160.6" text-anchor="middle" font-size="14.1">360</text><text x="58" y="300.47" text-anchor="end" font-size="14.1">0</text><text x="58" y="279.72" text-anchor="end" font-size="14.1">100</text><text x="58" y="258.96" text-anchor="end" font-size="14.1">200</text><text x="58" y="238.21" text-anchor="end" font-size="14.1">300</text><text x="58" y="217.45" text-anchor="end" font-size="14.1">400</text><text x="58" y="196.7" text-anchor="end" font-size="14.1">500</text><text x="64.2" y="326.5" text-anchor="middle" font-size="14.1">0</text><text x="138.42" y="326.5" text-anchor="middle" font-size="14.1">30</text><text x="212.63" y="326.5" text-anchor="middle" font-size="14.1">60</text><text x="286.85" y="326.5" text-anchor="middle" font-size="14.1">90</text><text x="361.07" y="326.5" text-anchor="middle" font-size="14.1">120</text><text x="435.28" y="326.5" text-anchor="middle" font-size="14.1">150</text><text x="509.5" y="326.5" text-anchor="middle" font-size="14.1">180</text><text x="58" y="362.4" text-anchor="end" font-size="14.1">20</text><text x="58" y="388.62" text-anchor="end" font-size="14.1">0</text><text x="58" y="414.84" text-anchor="end" font-size="14.1">-20</text><text x="58" y="441.07" text-anchor="end" font-size="14.1">-40</text><text x="58" y="467.29" text-anchor="end" font-size="14.1">-60</text><text x="64.2" y="491.9" text-anchor="middle" font-size="14.1">0</text><text x="138.42" y="491.9" text-anchor="middle" font-size="14.1">30</text><text x="212.63" y="491.9" text-anchor="middle" font-size="14.1">60</text><text x="286.85" y="491.9" text-anchor="middle" font-size="14.1">90</text><text x="361.07" y="491.9" text-anchor="middle" font-size="14.1">120</text><text x="435.28" y="491.9" text-anchor="middle" font-size="14.1">150</text><text x="509.5" y="491.9" text-anchor="middle" font-size="14.1">180</text><text transform="translate(279.7,180) scale(1.08,1)" font-size="17.5">&#952;</text><text x="288.4" y="186.5" font-size="13.2">1</text><text transform="translate(279.4,345.2) scale(1.08,1)" font-size="17.5">&#952;</text><text x="288.3" y="352" font-size="11.7">2</text><text transform="translate(19.5,111.3) rotate(-90)" font-size="16.7">V(cm</text><text transform="translate(8.1,71.1) rotate(-90)" font-size="11">-1</text><text transform="translate(19.5,61.5) rotate(-90)" font-size="16.7">)</text><text transform="translate(26.6,277.8) rotate(-90)" font-size="16.7">V(cm</text><text transform="translate(15.2,237.6) rotate(-90)" font-size="11">-1</text><text transform="translate(26.6,228) rotate(-90)" font-size="16.7">)</text><text transform="translate(28.6,442.8) rotate(-90)" font-size="16.7">V(cm</text><text transform="translate(17.2,402.6) rotate(-90)" font-size="11">-1</text><text transform="translate(28.6,393) rotate(-90)" font-size="16.7">)</text><text transform="translate(5.9,34.1) scale(1.05,1)" font-size="15.5">(a)</text><text transform="translate(5.9,202.4) scale(1.05,1)" font-size="15.5">(b)</text><text transform="translate(5.9,368.7) scale(1.05,1)" font-size="15.5">(c)</text>
<text x="430.4" y="13.1" font-size="8.9" style="stroke-width:0.15px">R=6.0, V6D</text><text x="430.4" y="26.74" font-size="8.9" style="stroke-width:0.15px">R=6.5, V6D</text><text x="430.4" y="40.38" font-size="8.9" style="stroke-width:0.15px">R=7.0, V6D</text><text x="430.4" y="54.02" font-size="8.9" style="stroke-width:0.15px">R=8.0, V6D</text><text x="430.4" y="67.66" font-size="8.9" style="stroke-width:0.15px">R=6.0, V98</text><text x="430.4" y="81.3" font-size="8.9" style="stroke-width:0.15px">R=6.5, V98</text><text x="430.4" y="94.94" font-size="8.9" style="stroke-width:0.15px">R=7.0, V98</text><text x="430.4" y="108.58" font-size="8.9" style="stroke-width:0.15px">R=8.0, V98</text><path d="M392,10.5H417" stroke="#000" stroke-width="1.6"/><path d="M392,24.14H417" stroke="#d0102a" stroke-width="1.6" stroke-dasharray="1.2 4.65"/><path d="M392,37.78H417" stroke="#008b00" stroke-width="1.6" stroke-dasharray="9.8 4.6"/><path d="M392,51.42H417" stroke="#0000ff" stroke-width="1.6" stroke-dasharray="1.2 4.6 7 4.4 1.2 5 1.2 10"/></g>
<circle cx="404.4" cy="65.46" r="3.05" fill="none" stroke="#000" stroke-width="1.4"/><rect x="401.9" y="76.4" width="5.4" height="5.4" fill="none" stroke="#ff0000" stroke-width="1.45"/><path d="M404.7,89.84L407.7,95.04L401.7,95.04Z" fill="none" stroke="#008b00" stroke-width="1.45" stroke-linejoin="miter"/><path d="M404.5,102.68L405.46,103.87L406.97,103.71L406.81,105.22L408,106.18L406.81,107.14L406.97,108.65L405.46,108.49L404.5,109.68L403.54,108.49L402.03,108.65L402.19,107.14L401,106.18L402.19,105.22L402.03,103.71L403.54,103.87Z" fill="#0000ff"/>
</svg>
</body></html>
